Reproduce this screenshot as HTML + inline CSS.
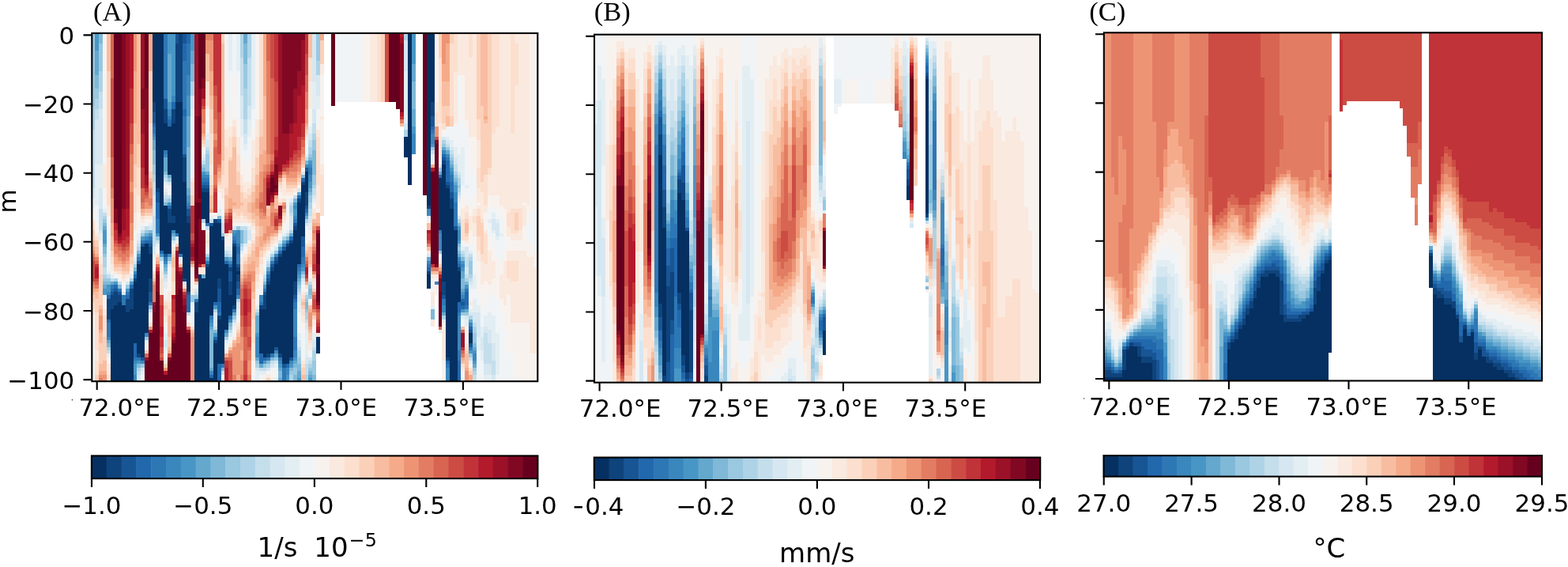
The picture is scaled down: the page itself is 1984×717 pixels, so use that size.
<!DOCTYPE html>
<html lang="en"><head><meta charset="utf-8"><title>Depth sections</title>
<style>html,body{margin:0;padding:0;background:#fff}body{width:1984px;height:717px}svg{display:block}text{fill:#000}</style></head>
<body>
<svg width="1984" height="717" viewBox="0 0 1984 717">
<rect width="1984" height="717" fill="#fff"/>
<g id="panelA">
<g shape-rendering="crispEdges">
<path fill="#053061" d="M193 42h4v87h-4zM545 42h5v87h-5zM516 42h5v192h-5zM197 42h5v196h-5zM540 42h5v218h-5zM202 42h5v275h-5zM222 129h4v166h-4zM226 129h5v192h-5zM207 156h5v34h-5zM217 156h5v117h-5zM212 160h5v61h-5zM511 173h5v26h-5zM559 208h5v148h-5zM386 217h4v26h-4zM555 225h4v66h-4zM231 230h5v122h-5zM381 234h5v65h-5zM564 238h5v214h-5zM255 243h5v34h-5zM260 243h5v39h-5zM376 256h5v78h-5zM207 260h5v61h-5zM569 264h5v218h-5zM217 282h5v9h-5zM212 282h5v39h-5zM275 282h5v70h-5zM236 282h5v87h-5zM270 282h5v100h-5zM265 286h5v113h-5zM371 291h5v65h-5zM574 291h5v191h-5zM280 304h4v156h-4zM183 308h5v113h-5zM366 308h5v144h-5zM294 312h5v74h-5zM178 312h5v140h-5zM362 312h4v148h-4zM357 317h5v143h-5zM188 321h5v31h-5zM352 325h5v122h-5zM284 334h5v83h-5zM347 334h5v105h-5zM173 334h5v113h-5zM260 338h5v144h-5zM299 343h5v4h-5zM579 343h4v39h-4zM342 343h5v104h-5zM540 347h5v18h-5zM251 347h4v135h-4zM255 352h5v130h-5zM169 356h4v78h-4zM337 360h5v87h-5zM289 373h5v26h-5zM149 382h5v100h-5zM144 386h5v96h-5zM154 386h5v96h-5zM328 391h5v56h-5zM333 391h4v61h-4zM140 391h4v91h-4zM164 391h5v91h-5zM159 395h5v87h-5zM246 395h5v87h-5zM275 404h5v56h-5zM593 421h5v13h-5zM400 426h5v21h-5zM270 434h5v48h-5zM265 478h5v4h-5z"/>
<path fill="#0f437b" d="M226 42h5v87h-5zM222 55h4v74h-4zM193 129h4v13h-4zM545 129h5v18h-5zM207 138h5v18h-5zM217 138h5v18h-5zM231 199h5v31h-5zM559 203h5v5h-5zM381 230h5v4h-5zM564 234h5v4h-5zM197 238h5v5h-5zM255 238h10v5h-10zM386 243h4v17h-4zM376 251h5v5h-5zM569 251h5v13h-5zM540 260h5v4h-5zM212 264h5v18h-5zM217 273h5v9h-5zM236 273h5v9h-5zM270 277h5v5h-5zM371 286h5v5h-5zM280 299h4v5h-4zM366 304h5v4h-5zM294 308h5v4h-5zM362 308h4v4h-4zM188 312h5v9h-5zM352 321h5v4h-5zM347 330h5v4h-5zM260 334h5v4h-5zM289 338h5v5h-5zM299 338h5v5h-5zM342 338h5v5h-5zM579 338h4v5h-4zM540 343h5v4h-5zM299 347h5v9h-5zM169 352h4v4h-4zM231 352h5v4h-5zM275 352h5v13h-5zM188 352h5v17h-5zM337 356h5v4h-5zM289 356h5v17h-5zM371 356h5v17h-5zM559 356h5v17h-5zM164 365h5v26h-5zM144 369h5v17h-5zM149 373h5v9h-5zM140 373h4v18h-4zM333 373h4v18h-4zM159 378h5v17h-5zM135 378h5v26h-5zM246 382h5v13h-5zM294 386h5v5h-5zM328 386h5v5h-5zM275 399h5v5h-5zM270 430h5v4h-5zM173 447h5v5h-5zM337 447h5v5h-5zM352 447h5v5h-5zM564 452h5v4h-5z"/>
<path fill="#185595" d="M222 42h4v13h-4zM231 42h5v13h-5zM207 125h5v13h-5zM193 142h4v14h-4zM545 147h5v13h-5zM231 195h5v4h-5zM559 199h5v4h-5zM386 212h4v5h-4zM564 230h5v4h-5zM255 234h10v4h-10zM569 243h5v8h-5zM197 243h5v13h-5zM386 260h4v4h-4zM236 264h5v9h-5zM275 277h5v5h-5zM265 282h5v4h-5zM371 282h5v4h-5zM574 286h5v5h-5zM381 299h5v13h-5zM178 308h5v4h-5zM188 308h5v4h-5zM357 312h5v5h-5zM207 321h5v4h-5zM347 325h5v5h-5zM173 330h5v4h-5zM299 334h5v4h-5zM342 334h5v4h-5zM289 343h5v13h-5zM337 352h5v4h-5zM299 356h5v9h-5zM144 365h5v4h-5zM275 365h5v17h-5zM140 369h4v4h-4zM149 369h5v4h-5zM236 369h5v4h-5zM333 369h4v4h-4zM188 369h5v13h-5zM371 373h5v5h-5zM559 373h5v5h-5zM583 382h5v4h-5zM593 417h5v4h-5zM593 434h5v5h-5zM347 439h5v4h-5zM178 452h5v4h-5zM366 452h5v4h-5zM357 460h5v5h-5z"/>
<path fill="#2268ad" d="M236 42h5v13h-5zM231 55h5v22h-5zM217 129h5v9h-5zM231 138h5v9h-5zM212 151h5v9h-5zM193 156h4v4h-4zM545 160h5v4h-5zM559 195h5v4h-5zM564 203h5v27h-5zM555 221h4v4h-4zM381 225h5v5h-5zM255 230h10v4h-10zM569 230h5v13h-5zM376 247h5v4h-5zM197 256h5v21h-5zM212 260h5v4h-5zM386 264h4v5h-4zM366 299h5v5h-5zM183 304h10v4h-10zM294 304h5v4h-5zM299 312h5v9h-5zM381 312h5v13h-5zM202 317h5v4h-5zM352 317h5v4h-5zM284 330h5v4h-5zM289 334h5v4h-5zM376 334h5v4h-5zM579 334h4v4h-4zM540 338h5v5h-5zM169 347h4v5h-4zM337 347h5v5h-5zM144 360h5v5h-5zM164 360h5v5h-5zM140 365h4v4h-4zM299 365h5v8h-5zM588 369h5v17h-5zM135 373h5v5h-5zM159 373h5v5h-5zM236 373h5v22h-5zM371 378h5v4h-5zM583 378h5v4h-5zM270 382h5v4h-5zM275 382h5v13h-5zM579 382h4v13h-4zM583 386h5v5h-5zM289 399h5v5h-5zM135 404h5v4h-5zM593 413h5v4h-5zM270 426h5v4h-5zM169 434h4v18h-4zM328 447h5v13h-5zM333 452h4v4h-4zM564 456h5v4h-5zM579 456h4v26h-4zM362 460h4v5h-4zM275 460h5v22h-5zM265 474h5v4h-5z"/>
<path fill="#2e77b5" d="M207 42h5v83h-5zM236 55h5v40h-5zM231 77h5v61h-5zM212 147h5v4h-5zM231 147h5v48h-5zM193 160h4v9h-4zM545 164h5v5h-5zM207 190h5v5h-5zM564 199h5v4h-5zM390 212h5v9h-5zM569 221h5v9h-5zM255 225h10v5h-10zM574 256h5v30h-5zM236 260h5v4h-5zM371 277h5v5h-5zM197 277h5v18h-5zM260 282h5v4h-5zM555 291h4v4h-4zM222 295h4v4h-4zM188 299h5v5h-5zM294 299h5v5h-5zM178 304h5v4h-5zM362 304h4v4h-4zM299 308h5v4h-5zM226 321h5v4h-5zM299 321h5v13h-5zM173 325h5v5h-5zM207 325h5v5h-5zM381 325h5v9h-5zM260 330h5v4h-5zM342 330h5v4h-5zM579 330h4v4h-4zM540 334h5v4h-5zM376 338h5v5h-5zM140 360h4v5h-4zM149 365h5v4h-5zM333 365h4v4h-4zM588 365h5v4h-5zM159 369h5v4h-5zM154 373h5v13h-5zM246 378h5v4h-5zM559 378h5v8h-5zM188 382h5v4h-5zM328 382h5v4h-5zM371 382h5v9h-5zM588 386h5v5h-5zM294 391h5v4h-5zM275 395h5v4h-5zM579 395h4v4h-4zM265 399h5v5h-5zM135 408h5v18h-5zM371 426h5v17h-5zM593 439h5v4h-5zM579 443h4v13h-4zM342 447h5v5h-5zM169 452h9v4h-9zM337 452h5v4h-5zM352 452h5v4h-5zM280 460h4v5h-4zM564 460h5v5h-5zM357 465h5v17h-5z"/>
<path fill="#3a87bd" d="M236 95h5v26h-5zM217 121h5v8h-5zM212 138h5v9h-5zM193 169h4v4h-4zM545 169h5v13h-5zM521 169h5v26h-5zM559 190h5v5h-5zM207 195h5v4h-5zM564 195h5v4h-5zM386 208h9v4h-9zM569 217h5v4h-5zM255 221h10v4h-10zM390 221h5v9h-5zM574 243h5v13h-5zM236 256h5v4h-5zM371 260h5v4h-5zM540 264h5v9h-5zM386 269h4v4h-4zM371 273h5v4h-5zM217 291h5v4h-5zM579 291h4v13h-4zM299 291h5v17h-5zM294 295h5v4h-5zM555 295h4v22h-4zM183 299h5v5h-5zM357 308h5v4h-5zM212 321h5v4h-5zM347 321h5v4h-5zM579 325h4v5h-4zM207 330h5v4h-5zM289 330h5v4h-5zM540 330h5v4h-5zM381 334h5v4h-5zM583 334h5v4h-5zM169 343h4v4h-4zM337 343h5v4h-5zM376 343h5v4h-5zM550 356h5v4h-5zM135 369h5v4h-5zM299 373h5v5h-5zM583 373h5v5h-5zM328 373h5v9h-5zM559 386h5v9h-5zM371 391h5v35h-5zM579 399h4v44h-4zM265 404h5v4h-5zM289 404h5v4h-5zM593 408h5v5h-5zM284 417h5v4h-5zM183 421h5v5h-5zM135 426h5v4h-5zM323 426h5v26h-5zM347 443h5v4h-5zM371 443h5v9h-5zM598 447h5v9h-5zM169 456h4v4h-4zM178 456h5v4h-5zM352 456h5v4h-5zM366 456h5v4h-5zM362 465h4v9h-4zM564 465h5v17h-5zM265 469h5v5h-5zM169 474h4v8h-4z"/>
<path fill="#4896c5" d="M120 42h5v22h-5zM241 42h5v22h-5zM212 42h5v26h-5zM521 42h5v39h-5zM217 42h5v79h-5zM236 121h5v26h-5zM212 129h5v9h-5zM521 160h5v9h-5zM193 173h4v4h-4zM545 182h5v4h-5zM390 203h5v5h-5zM569 212h5v5h-5zM255 217h5v4h-5zM390 230h5v8h-5zM574 234h5v9h-5zM236 247h5v9h-5zM212 256h5v4h-5zM371 256h5v4h-5zM371 264h5v9h-5zM579 286h4v5h-4zM294 291h5v4h-5zM130 291h5v17h-5zM188 295h5v4h-5zM197 295h5v4h-5zM178 299h5v5h-5zM579 304h4v4h-4zM352 312h5v5h-5zM173 321h5v4h-5zM202 321h5v4h-5zM284 325h5v5h-5zM583 330h5v4h-5zM381 338h5v5h-5zM583 338h5v5h-5zM376 347h5v5h-5zM144 356h5v4h-5zM164 356h5v4h-5zM333 360h4v5h-4zM588 360h5v5h-5zM135 360h5v9h-5zM159 365h5v4h-5zM130 365h5v8h-5zM583 369h5v4h-5zM270 386h5v5h-5zM583 391h5v4h-5zM265 408h5v5h-5zM270 421h5v5h-5zM323 421h5v5h-5zM593 443h10v4h-10zM371 452h5v4h-5zM173 456h5v4h-5zM333 456h4v4h-4zM598 456h5v4h-5zM352 460h5v5h-5zM366 460h5v5h-5zM169 460h4v14h-4zM362 474h4v8h-4zM376 478h5v4h-5zM390 478h5v4h-5z"/>
<path fill="#64a8ce" d="M308 42h5v13h-5zM241 64h5v17h-5zM120 64h5v31h-5zM212 68h5v61h-5zM521 81h5v22h-5zM521 138h5v22h-5zM236 147h5v39h-5zM193 177h4v13h-4zM559 186h5v4h-5zM564 190h5v5h-5zM207 199h5v18h-5zM569 208h5v4h-5zM260 217h5v4h-5zM555 217h4v4h-4zM212 221h5v4h-5zM574 230h5v4h-5zM390 238h5v5h-5zM236 238h5v9h-5zM376 243h5v4h-5zM386 273h4v4h-4zM130 286h5v5h-5zM183 295h5v4h-5zM217 295h5v4h-5zM366 295h5v4h-5zM357 304h5v4h-5zM130 308h5v4h-5zM579 321h4v4h-4zM260 325h5v5h-5zM289 325h5v5h-5zM342 325h5v5h-5zM540 325h5v5h-5zM207 334h5v4h-5zM337 338h5v5h-5zM583 343h5v9h-5zM255 347h5v5h-5zM376 352h5v4h-5zM140 356h4v4h-4zM130 360h5v5h-5zM583 365h5v4h-5zM588 391h5v4h-5zM294 395h5v4h-5zM559 395h5v4h-5zM323 399h5v22h-5zM593 404h5v4h-5zM265 413h5v4h-5zM284 421h5v5h-5zM135 430h5v4h-5zM598 439h5v4h-5zM347 447h5v5h-5zM323 452h5v4h-5zM371 456h5v4h-5zM328 460h5v5h-5zM598 460h5v5h-5zM265 465h5v4h-5zM352 465h5v4h-5zM376 469h5v9h-5zM390 474h5v4h-5zM352 478h5v4h-5z"/>
<path fill="#7fb9d7" d="M125 42h5v13h-5zM308 55h5v26h-5zM241 81h5v22h-5zM120 95h5v17h-5zM521 103h5v35h-5zM236 186h5v52h-5zM193 190h4v18h-4zM395 190h5v31h-5zM390 199h5v4h-5zM386 203h4v5h-4zM569 203h5v5h-5zM255 212h5v5h-5zM207 217h5v4h-5zM381 221h5v4h-5zM574 225h5v5h-5zM390 243h5v4h-5zM371 251h5v5h-5zM207 256h5v4h-5zM275 273h5v4h-5zM130 282h5v4h-5zM579 282h4v4h-4zM188 291h5v4h-5zM304 291h4v17h-4zM362 299h4v5h-4zM579 308h4v4h-4zM130 312h5v9h-5zM173 317h5v4h-5zM579 317h4v4h-4zM212 325h5v5h-5zM583 325h5v5h-5zM169 338h4v5h-4zM207 338h5v5h-5zM381 343h5v4h-5zM583 352h5v13h-5zM130 356h10v4h-10zM333 356h4v4h-4zM376 356h5v4h-5zM588 356h5v4h-5zM149 360h5v5h-5zM390 365h5v8h-5zM386 382h4v9h-4zM188 386h5v5h-5zM545 391h5v13h-5zM289 408h5v5h-5zM270 417h5v4h-5zM265 417h5v48h-5zM135 434h5v5h-5zM598 434h5v5h-5zM342 452h5v4h-5zM337 456h5v4h-5zM173 460h5v5h-5zM371 460h5v5h-5zM376 460h5v9h-5zM280 465h4v4h-4zM366 465h5v4h-5zM390 469h5v5h-5zM352 469h5v9h-5zM371 474h5v8h-5zM395 474h5v8h-5z"/>
<path fill="#99c8e0" d="M400 42h5v35h-5zM116 42h4v92h-4zM125 55h5v35h-5zM308 81h5v31h-5zM120 112h5v13h-5zM395 177h5v13h-5zM559 182h5v4h-5zM545 186h5v4h-5zM564 186h5v4h-5zM390 195h5v4h-5zM260 195h5v22h-5zM569 199h5v4h-5zM255 208h5v4h-5zM193 208h4v13h-4zM555 212h4v5h-4zM574 221h5v4h-5zM395 221h5v13h-5zM212 225h5v5h-5zM579 234h4v4h-4zM390 247h5v9h-5zM212 251h5v5h-5zM130 277h5v5h-5zM299 286h5v5h-5zM183 291h5v4h-5zM178 295h5v4h-5zM280 295h4v4h-4zM197 299h5v5h-5zM217 299h5v5h-5zM352 308h5v4h-5zM579 312h4v5h-4zM347 317h5v4h-5zM555 317h4v4h-4zM130 321h5v4h-5zM593 330h5v17h-5zM207 343h5v4h-5zM130 352h10v4h-10zM159 360h5v5h-5zM376 360h5v5h-5zM390 360h5v5h-5zM246 373h5v5h-5zM390 373h5v5h-5zM241 373h5v9h-5zM386 378h4v4h-4zM386 391h4v4h-4zM323 395h5v4h-5zM583 395h10v4h-10zM294 399h5v5h-5zM289 413h5v4h-5zM598 421h5v13h-5zM183 426h5v4h-5zM593 447h5v5h-5zM347 452h5v4h-5zM376 452h5v8h-5zM323 456h5v4h-5zM395 456h5v18h-5zM178 460h5v5h-5zM333 460h4v5h-4zM390 465h5v4h-5zM598 465h5v4h-5zM371 465h5v9h-5zM366 469h5v5h-5z"/>
<path fill="#aed3e6" d="M511 42h5v9h-5zM304 42h4v31h-4zM313 42h5v31h-5zM400 77h5v18h-5zM125 90h5v26h-5zM241 103h5v18h-5zM308 112h5v39h-5zM120 125h5v13h-5zM116 134h4v30h-4zM511 164h5v9h-5zM395 169h5v8h-5zM559 177h5v5h-5zM390 186h5v9h-5zM260 190h5v5h-5zM569 195h5v4h-5zM574 217h5v4h-5zM207 221h5v4h-5zM193 221h4v9h-4zM579 225h4v9h-4zM395 234h5v4h-5zM579 238h4v5h-4zM207 251h5v5h-5zM390 256h5v8h-5zM366 260h5v9h-5zM130 273h5v4h-5zM255 277h5v5h-5zM386 277h4v5h-4zM579 277h4v5h-4zM366 291h5v4h-5zM308 291h5v17h-5zM357 299h5v5h-5zM304 308h4v4h-4zM173 312h5v5h-5zM260 321h5v4h-5zM284 321h5v4h-5zM342 321h5v4h-5zM583 321h5v4h-5zM202 325h5v5h-5zM593 325h5v5h-5zM130 325h5v13h-5zM169 334h4v4h-4zM337 334h5v4h-5zM130 347h5v5h-5zM381 347h5v5h-5zM593 347h5v5h-5zM144 352h5v4h-5zM164 352h5v4h-5zM333 352h4v4h-4zM588 352h5v4h-5zM376 365h5v4h-5zM386 373h4v5h-4zM299 378h5v4h-5zM270 391h5v4h-5zM386 395h4v9h-4zM559 399h5v5h-5zM593 399h5v5h-5zM598 413h5v8h-5zM284 426h5v4h-5zM135 439h5v4h-5zM376 443h5v9h-5zM395 443h5v13h-5zM323 460h5v5h-5zM337 460h5v5h-5zM390 460h5v5h-5zM173 465h5v4h-5zM598 469h5v5h-5zM366 474h5v8h-5zM386 474h4v8h-4z"/>
<path fill="#c4deec" d="M304 73h4v48h-4zM313 73h5v61h-5zM125 116h5v22h-5zM120 138h5v13h-5zM308 151h5v18h-5zM395 156h5v13h-5zM116 164h4v74h-4zM390 177h5v9h-5zM564 182h5v4h-5zM260 186h5v4h-5zM545 190h5v5h-5zM569 190h5v5h-5zM386 199h4v4h-4zM255 203h5v5h-5zM574 208h5v9h-5zM579 221h4v4h-4zM207 225h5v5h-5zM193 230h4v17h-4zM395 238h5v9h-5zM579 243h4v4h-4zM207 247h10v4h-10zM371 247h5v4h-5zM366 256h5v4h-5zM390 264h5v9h-5zM125 264h5v27h-5zM130 269h5v4h-5zM366 269h5v4h-5zM193 273h4v39h-4zM265 277h5v5h-5zM280 282h4v13h-4zM183 286h5v5h-5zM260 286h5v5h-5zM304 286h9v5h-9zM178 291h5v4h-5zM362 295h4v4h-4zM197 304h5v4h-5zM173 308h5v4h-5zM304 312h4v5h-4zM284 317h5v4h-5zM583 317h5v4h-5zM289 321h5v4h-5zM593 321h5v4h-5zM588 325h5v13h-5zM212 330h5v4h-5zM337 330h5v4h-5zM130 338h5v9h-5zM135 347h5v5h-5zM207 347h5v5h-5zM333 347h4v5h-4zM588 347h5v5h-5zM140 352h4v4h-4zM593 352h5v4h-5zM149 356h5v4h-5zM390 356h5v4h-5zM246 369h5v4h-5zM376 369h5v4h-5zM188 391h5v4h-5zM323 391h5v4h-5zM236 395h5v4h-5zM294 404h5v4h-5zM386 404h4v4h-4zM598 408h5v5h-5zM270 413h5v4h-5zM289 417h5v4h-5zM612 421h5v39h-5zM617 434h5v26h-5zM376 439h5v4h-5zM395 439h5v4h-5zM135 443h5v4h-5zM593 452h5v4h-5zM342 456h5v4h-5zM390 456h5v4h-5zM622 456h5v18h-5zM386 460h4v14h-4zM328 465h9v4h-9zM173 469h5v5h-5zM280 469h4v5h-4zM598 474h5v8h-5z"/>
<path fill="#d6e7f1" d="M395 42h5v61h-5zM511 51h5v39h-5zM400 95h5v26h-5zM241 121h5v17h-5zM304 121h4v30h-4zM313 134h5v17h-5zM395 138h5v18h-5zM125 138h5v70h-5zM120 151h5v57h-5zM511 156h5v8h-5zM390 169h5v8h-5zM308 169h5v13h-5zM559 173h5v4h-5zM564 177h5v5h-5zM260 177h5v9h-5zM569 186h5v4h-5zM255 199h5v4h-5zM574 199h5v9h-5zM555 208h4v4h-4zM381 217h5v4h-5zM579 217h4v4h-4zM212 230h5v4h-5zM376 238h5v5h-5zM116 238h4v13h-4zM125 238h5v26h-5zM207 243h5v4h-5zM395 247h5v4h-5zM579 247h4v4h-4zM193 247h4v26h-4zM579 273h4v4h-4zM390 273h5v9h-5zM366 273h5v18h-5zM280 277h4v5h-4zM622 277h5v14h-5zM386 282h4v4h-4zM627 282h5v17h-5zM188 286h5v5h-5zM294 286h5v5h-5zM125 291h5v4h-5zM313 291h5v13h-5zM222 299h4v5h-4zM173 304h5v4h-5zM217 304h5v4h-5zM352 304h5v4h-5zM347 312h5v5h-5zM193 312h4v9h-4zM588 312h5v13h-5zM289 317h5v4h-5zM540 321h5v4h-5zM169 330h4v4h-4zM588 338h5v9h-5zM207 352h5v4h-5zM381 352h5v4h-5zM159 356h5v4h-5zM231 356h5v4h-5zM593 356h5v4h-5zM246 365h5v4h-5zM154 369h5v4h-5zM386 369h4v4h-4zM376 373h5v9h-5zM299 382h5v9h-5zM593 395h5v4h-5zM598 395h5v13h-5zM270 395h5v18h-5zM603 395h5v31h-5zM588 399h5v5h-5zM386 408h4v9h-4zM612 413h5v8h-5zM617 417h5v17h-5zM608 426h4v17h-4zM207 430h5v9h-5zM376 430h5v9h-5zM395 430h5v9h-5zM622 434h5v22h-5zM390 452h5v4h-5zM386 452h4v8h-4zM347 456h5v4h-5zM342 460h5v5h-5zM612 460h10v14h-10zM178 465h5v4h-5zM323 465h5v4h-5zM337 465h5v4h-5zM173 474h5v8h-5zM622 474h5v8h-5z"/>
<path fill="#e3eef3" d="M289 42h5v48h-5zM299 42h5v48h-5zM318 42h5v96h-5zM511 90h5v66h-5zM395 103h5v35h-5zM400 121h5v17h-5zM241 138h5v9h-5zM304 151h4v22h-4zM313 151h5v22h-5zM390 160h5v9h-5zM260 169h5v8h-5zM564 173h5v4h-5zM569 177h5v9h-5zM308 182h5v8h-5zM574 186h5v13h-5zM583 186h5v48h-5zM255 195h5v4h-5zM386 195h4v4h-4zM545 195h5v8h-5zM579 195h4v22h-4zM125 208h5v30h-5zM120 208h5v52h-5zM207 230h5v4h-5zM588 234h5v4h-5zM207 238h5v5h-5zM366 251h5v5h-5zM395 251h5v5h-5zM579 251h4v5h-4zM116 251h4v13h-4zM130 264h5v5h-5zM275 264h5v9h-5zM622 269h5v8h-5zM265 273h5v4h-5zM280 273h4v4h-4zM540 273h5v4h-5zM617 277h5v5h-5zM627 277h5v5h-5zM188 282h5v4h-5zM390 282h5v9h-5zM178 286h5v5h-5zM313 286h5v5h-5zM362 291h4v4h-4zM622 291h5v4h-5zM357 295h5v4h-5zM632 295h5v4h-5zM125 295h5v9h-5zM173 295h5v9h-5zM627 299h5v5h-5zM197 308h5v4h-5zM308 308h5v4h-5zM284 312h10v5h-10zM583 312h5v5h-5zM304 317h4v4h-4zM342 317h5v4h-5zM593 317h5v4h-5zM193 321h4v4h-4zM169 325h4v5h-4zM226 325h5v5h-5zM337 325h5v5h-5zM202 330h5v4h-5zM212 334h5v4h-5zM135 343h5v4h-5zM333 343h4v4h-4zM140 347h4v5h-4zM164 347h5v5h-5zM598 347h5v18h-5zM390 352h5v4h-5zM381 356h5v4h-5zM207 356h5v9h-5zM593 360h5v5h-5zM598 378h5v17h-5zM241 382h5v4h-5zM376 382h5v13h-5zM323 386h5v5h-5zM545 386h5v5h-5zM603 386h5v9h-5zM593 391h5v4h-5zM299 391h5v8h-5zM617 395h5v22h-5zM583 399h5v5h-5zM612 399h5v14h-5zM622 399h5v35h-5zM559 404h5v4h-5zM588 404h5v9h-5zM294 408h5v5h-5zM608 413h4v13h-4zM555 417h4v4h-4zM386 417h4v35h-4zM289 421h5v5h-5zM207 421h5v9h-5zM376 421h5v9h-5zM395 421h5v9h-5zM627 421h5v53h-5zM603 426h5v17h-5zM183 430h5v4h-5zM284 430h5v4h-5zM207 439h5v4h-5zM608 443h4v13h-4zM135 447h5v5h-5zM593 456h5v4h-5zM347 460h5v5h-5zM178 469h5v5h-5zM328 469h9v5h-9zM323 469h5v13h-5zM612 474h10v8h-10zM347 478h5v4h-5z"/>
<path fill="#f0f4f6" d="M294 42h5v53h-5zM424 42h34v87h-34zM284 42h5v92h-5zM289 90h5v61h-5zM299 90h5v61h-5zM579 95h4v52h-4zM400 138h5v18h-5zM318 138h5v22h-5zM241 147h5v74h-5zM579 151h4v44h-4zM390 156h5v4h-5zM260 156h5v13h-5zM583 156h5v30h-5zM564 160h5v13h-5zM569 160h5v17h-5zM574 160h5v26h-5zM588 164h5v70h-5zM559 169h5v4h-5zM304 173h4v26h-4zM313 173h5v30h-5zM386 186h4v9h-4zM255 190h5v5h-5zM308 190h5v18h-5zM555 203h4v5h-4zM593 212h5v48h-5zM598 221h5v26h-5zM207 234h5v4h-5zM583 234h5v13h-5zM212 238h5v9h-5zM588 238h5v13h-5zM371 243h5v4h-5zM362 251h4v22h-4zM395 256h5v4h-5zM275 256h5v8h-5zM579 256h4v17h-4zM130 260h5v4h-5zM120 260h5v22h-5zM116 264h4v5h-4zM622 264h5v5h-5zM280 264h4v9h-4zM617 264h5v13h-5zM627 264h5v13h-5zM675 264h5v53h-5zM670 269h5v39h-5zM270 273h5v4h-5zM632 273h5v22h-5zM183 282h5v4h-5zM299 282h14v4h-14zM255 282h5v9h-5zM362 282h4v9h-4zM173 282h5v13h-5zM617 282h5v17h-5zM666 282h4v22h-4zM386 286h4v5h-4zM135 286h5v57h-5zM357 291h5v4h-5zM390 291h5v4h-5zM622 295h5v17h-5zM352 299h5v5h-5zM637 299h4v18h-4zM632 299h5v31h-5zM313 304h5v4h-5zM125 304h5v13h-5zM627 304h5v21h-5zM217 308h5v4h-5zM289 308h5v4h-5zM347 308h5v4h-5zM583 308h10v4h-10zM593 308h5v9h-5zM197 312h5v5h-5zM308 312h5v5h-5zM342 312h5v5h-5zM260 312h5v9h-5zM169 317h4v8h-4zM598 317h5v30h-5zM337 321h5v4h-5zM555 321h4v9h-4zM193 325h4v9h-4zM202 334h5v4h-5zM333 334h4v9h-4zM212 338h5v14h-5zM144 347h5v5h-5zM390 347h5v5h-5zM149 352h5v4h-5zM550 352h5v4h-5zM246 360h5v5h-5zM381 360h5v5h-5zM154 360h5v9h-5zM550 360h5v9h-5zM207 365h5v8h-5zM328 365h5v8h-5zM593 365h5v8h-5zM598 365h5v13h-5zM603 369h5v17h-5zM130 373h5v5h-5zM617 373h5v22h-5zM622 373h5v26h-5zM390 378h5v4h-5zM323 378h5v8h-5zM627 378h5v43h-5zM612 382h5v17h-5zM241 386h5v27h-5zM608 391h4v22h-4zM188 395h5v4h-5zM376 395h5v26h-5zM632 395h5v87h-5zM299 399h5v5h-5zM583 404h5v9h-5zM588 413h5v4h-5zM207 413h5v8h-5zM294 413h5v13h-5zM395 417h5v4h-5zM381 417h5v35h-5zM116 417h4v65h-4zM637 417h4v65h-4zM289 426h5v8h-5zM284 434h5v9h-5zM207 443h5v4h-5zM603 443h5v39h-5zM390 447h5v5h-5zM641 447h10v35h-10zM135 452h5v4h-5zM608 456h4v26h-4zM342 465h5v4h-5zM347 465h5v13h-5zM337 469h5v5h-5zM328 474h5v4h-5zM178 474h5v8h-5zM280 474h4v8h-4zM318 474h5v8h-5zM583 474h5v8h-5zM627 474h5v8h-5z"/>
<path fill="#f8f2ef" d="M458 42h10v87h-10zM550 42h5v87h-5zM323 42h5v109h-5zM130 42h5v166h-5zM675 42h5v222h-5zM670 42h5v227h-5zM405 95h5v52h-5zM294 95h5v56h-5zM583 95h5v61h-5zM284 134h5v30h-5zM260 138h5v18h-5zM390 138h5v18h-5zM579 147h4v4h-4zM289 151h5v9h-5zM588 151h5v13h-5zM299 151h5v22h-5zM405 151h5v57h-5zM574 156h5v4h-5zM400 156h5v8h-5zM318 160h5v17h-5zM559 164h5v5h-5zM593 173h5v39h-5zM598 173h5v48h-5zM386 177h4v9h-4zM255 186h5v4h-5zM555 199h4v4h-4zM304 199h4v22h-4zM545 203h5v5h-5zM313 203h5v27h-5zM308 208h5v22h-5zM381 212h5v5h-5zM241 221h5v4h-5zM212 234h5v4h-5zM376 234h5v4h-5zM130 238h5v22h-5zM352 243h5v8h-5zM275 243h5v13h-5zM357 247h14v4h-14zM583 247h5v17h-5zM598 247h5v17h-5zM617 247h15v17h-15zM588 251h5v9h-5zM280 251h4v13h-4zM603 256h5v4h-5zM661 256h5v4h-5zM395 260h5v4h-5zM593 260h5v13h-5zM632 260h5v13h-5zM666 260h4v22h-4zM400 264h5v5h-5zM637 264h4v35h-4zM265 269h10v4h-10zM116 269h4v8h-4zM173 269h5v13h-5zM612 269h5v22h-5zM362 273h4v9h-4zM135 273h5v13h-5zM183 277h10v5h-10zM540 277h5v5h-5zM178 282h5v4h-5zM294 282h5v4h-5zM313 282h5v4h-5zM357 282h5v9h-5zM120 282h5v13h-5zM661 286h5v31h-5zM260 291h5v4h-5zM318 291h5v4h-5zM386 291h4v17h-4zM593 291h5v17h-5zM169 291h4v26h-4zM352 295h5v4h-5zM390 295h5v9h-5zM289 295h5v13h-5zM284 299h5v13h-5zM598 299h5v18h-5zM617 299h5v18h-5zM641 299h5v18h-5zM222 304h4v4h-4zM583 304h5v4h-5zM646 304h15v13h-15zM666 304h4v21h-4zM670 308h5v17h-5zM622 312h5v18h-5zM197 317h5v4h-5zM308 317h5v4h-5zM337 317h5v4h-5zM125 317h5v8h-5zM637 317h4v13h-4zM675 317h5v21h-5zM304 321h4v4h-4zM333 325h4v9h-4zM627 325h5v53h-5zM632 330h5v17h-5zM603 330h5v39h-5zM193 334h4v9h-4zM202 338h5v5h-5zM140 343h4v4h-4zM164 343h5v4h-5zM390 343h5v4h-5zM241 343h5v22h-5zM149 347h5v5h-5zM328 347h5v18h-5zM159 352h5v4h-5zM212 352h5v17h-5zM545 352h5v17h-5zM622 352h5v21h-5zM154 356h5v4h-5zM612 356h5v26h-5zM617 360h5v13h-5zM608 360h4v31h-4zM381 365h9v4h-9zM323 365h5v13h-5zM550 369h5v4h-5zM207 373h5v5h-5zM593 373h5v9h-5zM641 373h5v74h-5zM130 378h5v13h-5zM632 378h5v17h-5zM593 386h5v5h-5zM637 386h4v31h-4zM188 399h5v9h-5zM236 399h5v9h-5zM116 399h4v18h-4zM299 404h5v4h-5zM207 408h5v5h-5zM381 408h5v9h-5zM559 408h5v9h-5zM646 408h5v39h-5zM651 408h19v74h-19zM395 413h5v4h-5zM588 417h5v17h-5zM183 434h5v9h-5zM390 443h5v4h-5zM207 447h5v9h-5zM670 447h10v35h-10zM381 452h5v4h-5zM135 456h5v4h-5zM318 456h5v18h-5zM559 456h5v26h-5zM593 460h5v5h-5zM583 469h5v5h-5zM342 469h5v9h-5zM333 474h4v4h-4zM328 478h5v4h-5z"/>
<path fill="#fae9de" d="M651 42h5v13h-5zM579 42h9v53h-9zM468 42h9v87h-9zM588 42h5v109h-5zM598 42h5v131h-5zM661 42h5v214h-5zM632 42h5v218h-5zM666 42h4v218h-4zM637 42h4v222h-4zM656 42h5v222h-5zM641 42h5v227h-5zM593 73h5v100h-5zM405 81h5v14h-5zM574 90h5v66h-5zM390 103h5v35h-5zM651 108h5v156h-5zM550 129h5v13h-5zM260 134h5v4h-5zM405 147h5v4h-5zM294 151h5v9h-5zM323 151h5v22h-5zM555 156h4v43h-4zM289 160h5v13h-5zM627 160h5v87h-5zM400 164h5v9h-5zM284 164h5v22h-5zM622 169h5v78h-5zM646 169h5v95h-5zM386 173h4v4h-4zM299 173h5v22h-5zM318 177h5v35h-5zM603 177h5v35h-5zM265 208h5v13h-5zM405 208h5v13h-5zM130 208h5v30h-5zM304 221h4v13h-4zM617 221h5v26h-5zM241 225h5v5h-5zM313 230h5v8h-5zM308 230h5v13h-5zM357 230h5v17h-5zM400 234h5v30h-5zM275 238h5v5h-5zM352 238h5v5h-5zM371 238h5v5h-5zM280 238h4v13h-4zM603 238h5v18h-5zM362 243h9v4h-9zM608 243h4v34h-4zM173 247h5v22h-5zM352 251h5v5h-5zM603 260h5v4h-5zM588 260h5v9h-5zM612 260h5v9h-5zM135 260h5v13h-5zM661 260h5v26h-5zM395 264h5v5h-5zM598 264h5v9h-5zM583 264h5v13h-5zM169 269h4v22h-4zM183 273h10v4h-10zM304 273h4v9h-4zM593 273h5v18h-5zM116 277h4v5h-4zM178 277h5v5h-5zM294 277h10v5h-10zM308 277h5v5h-5zM357 277h5v5h-5zM598 282h5v17h-5zM318 286h5v5h-5zM641 286h5v13h-5zM612 291h5v4h-5zM656 291h5v13h-5zM120 295h5v4h-5zM260 295h5v9h-5zM318 295h5v9h-5zM646 295h10v9h-10zM347 304h5v4h-5zM390 304h5v4h-5zM588 304h5v4h-5zM260 308h5v4h-5zM313 308h5v4h-5zM342 308h5v4h-5zM217 312h5v5h-5zM540 317h5v4h-5zM603 317h5v13h-5zM641 317h15v13h-15zM617 317h5v43h-5zM656 317h10v91h-10zM308 321h5v4h-5zM333 321h4v4h-4zM125 325h5v9h-5zM304 325h4v9h-4zM666 325h4v83h-4zM670 325h5v122h-5zM226 330h5v4h-5zM555 330h4v4h-4zM622 330h5v22h-5zM608 330h4v30h-4zM637 330h4v56h-4zM140 334h4v9h-4zM328 334h5v13h-5zM612 334h5v22h-5zM164 338h5v5h-5zM241 338h5v5h-5zM390 338h5v5h-5zM251 338h9v9h-9zM675 338h5v109h-5zM144 343h5v4h-5zM202 343h5v9h-5zM159 347h5v5h-5zM545 347h10v5h-10zM632 347h5v31h-5zM154 352h5v4h-5zM641 352h5v21h-5zM323 356h5v9h-5zM395 356h5v9h-5zM646 356h10v52h-10zM241 365h5v8h-5zM381 369h5v4h-5zM212 369h5v13h-5zM545 369h5v17h-5zM207 378h5v4h-5zM390 382h5v4h-5zM593 382h5v4h-5zM116 391h4v8h-4zM130 391h5v8h-5zM207 399h5v9h-5zM381 399h5v9h-5zM395 404h5v9h-5zM545 404h5v9h-5zM299 408h5v5h-5zM559 417h5v39h-5zM400 421h5v5h-5zM294 426h5v4h-5zM289 434h5v5h-5zM588 434h5v5h-5zM390 434h5v9h-5zM318 434h5v22h-5zM284 443h5v4h-5zM120 443h5v13h-5zM207 456h5v4h-5zM381 456h5v4h-5zM135 460h5v14h-5zM583 465h5v4h-5zM337 474h5v4h-5zM333 478h4v4h-4zM342 478h5v4h-5z"/>
<path fill="#fcdfce" d="M593 42h5v31h-5zM574 42h5v48h-5zM477 42h5v87h-5zM328 42h5v109h-5zM627 42h5v118h-5zM622 42h5v127h-5zM646 42h5v127h-5zM651 55h5v53h-5zM569 55h5v92h-5zM390 73h5v30h-5zM555 73h4v83h-4zM260 103h5v31h-5zM550 142h5v18h-5zM603 151h5v26h-5zM559 156h5v8h-5zM188 156h5v61h-5zM294 160h5v13h-5zM386 169h4v4h-4zM265 169h5v39h-5zM289 173h5v26h-5zM323 173h5v26h-5zM400 173h5v61h-5zM255 182h5v4h-5zM284 186h5v52h-5zM299 195h5v22h-5zM135 199h5v61h-5zM617 212h5v9h-5zM318 212h5v22h-5zM603 212h5v26h-5zM173 212h5v35h-5zM265 221h5v13h-5zM280 221h4v17h-4zM612 221h5v39h-5zM405 221h5v52h-5zM357 225h5v5h-5zM376 230h5v4h-5zM608 230h4v13h-4zM241 230h5v17h-5zM275 234h5v4h-5zM352 234h5v4h-5zM304 234h4v9h-4zM362 238h9v5h-9zM313 238h5v9h-5zM169 238h4v31h-4zM308 243h5v8h-5zM357 251h5v5h-5zM651 264h5v5h-5zM603 264h5v9h-5zM656 264h5v27h-5zM646 264h5v31h-5zM304 269h4v4h-4zM294 269h5v8h-5zM395 269h5v8h-5zM588 269h5v8h-5zM641 269h5v17h-5zM178 273h5v4h-5zM299 273h5v4h-5zM308 273h5v4h-5zM357 273h5v4h-5zM598 273h5v9h-5zM313 277h5v5h-5zM608 277h4v5h-4zM583 277h5v27h-5zM318 282h5v4h-5zM116 282h4v9h-4zM352 291h5v4h-5zM651 291h5v4h-5zM284 295h5v4h-5zM612 295h5v39h-5zM120 299h5v5h-5zM347 299h5v5h-5zM588 299h5v5h-5zM603 299h5v18h-5zM260 304h5v4h-5zM318 304h5v4h-5zM342 304h5v4h-5zM386 308h9v4h-9zM337 312h5v5h-5zM313 312h5v9h-5zM217 317h5v4h-5zM333 317h4v4h-4zM197 321h5v4h-5zM608 321h4v9h-4zM308 325h5v5h-5zM140 325h4v9h-4zM328 325h5v9h-5zM641 330h5v22h-5zM646 330h10v26h-10zM164 334h5v4h-5zM304 334h4v9h-4zM125 334h5v13h-5zM149 343h5v4h-5zM193 343h4v4h-4zM154 347h5v5h-5zM323 347h5v9h-5zM395 352h5v4h-5zM202 352h5v21h-5zM217 356h5v17h-5zM231 360h5v5h-5zM386 360h4v5h-4zM381 373h5v5h-5zM207 382h5v4h-5zM116 382h4v9h-4zM212 382h5v9h-5zM207 391h5v8h-5zM381 391h5v8h-5zM120 395h5v48h-5zM130 399h5v27h-5zM318 404h5v30h-5zM188 408h5v5h-5zM236 408h5v5h-5zM241 413h5v4h-5zM299 413h5v4h-5zM390 430h5v4h-5zM588 439h5v4h-5zM120 456h5v18h-5zM381 460h5v5h-5zM583 460h5v5h-5zM593 465h5v4h-5zM135 474h5v8h-5z"/>
<path fill="#fbd0b9" d="M280 42h4v13h-4zM569 42h5v13h-5zM555 42h4v31h-4zM482 42h5v87h-5zM603 42h5v109h-5zM617 42h5v170h-5zM405 51h5v30h-5zM188 90h5v66h-5zM135 90h5v109h-5zM564 134h5v13h-5zM559 134h5v22h-5zM608 134h4v96h-4zM265 138h5v31h-5zM569 147h5v13h-5zM328 151h5v22h-5zM612 156h5v65h-5zM386 164h4v5h-4zM294 173h5v13h-5zM255 177h5v5h-5zM173 182h5v30h-5zM289 199h5v4h-5zM323 199h5v22h-5zM280 203h4v18h-4zM381 208h5v4h-5zM169 208h4v30h-4zM188 217h5v8h-5zM299 217h5v17h-5zM376 225h5v5h-5zM275 230h5v4h-5zM352 230h5v4h-5zM362 234h14v4h-14zM318 234h5v9h-5zM265 234h5v13h-5zM284 238h5v9h-5zM304 243h4v13h-4zM313 247h5v9h-5zM241 247h5v13h-5zM308 251h5v22h-5zM352 256h5v4h-5zM337 260h5v4h-5zM304 260h4v9h-4zM294 264h5v5h-5zM299 264h5v9h-5zM183 269h10v4h-10zM357 269h5v4h-5zM313 269h5v8h-5zM651 269h5v22h-5zM603 273h5v26h-5zM318 277h5v5h-5zM588 277h5v5h-5zM608 282h4v39h-4zM323 286h5v13h-5zM116 291h4v13h-4zM588 295h5v4h-5zM342 299h5v5h-5zM120 304h5v8h-5zM222 308h4v4h-4zM337 308h5v4h-5zM318 308h5v9h-5zM333 312h4v5h-4zM386 312h4v5h-4zM140 317h4v8h-4zM328 317h5v8h-5zM217 321h5v4h-5zM313 321h5v4h-5zM164 325h5v9h-5zM308 330h5v4h-5zM390 334h5v4h-5zM555 334h4v4h-4zM144 338h10v5h-10zM323 338h5v9h-5zM217 338h5v18h-5zM154 343h10v4h-10zM304 343h4v4h-4zM193 347h4v5h-4zM125 347h5v39h-5zM246 356h5v4h-5zM395 365h5v4h-5zM116 373h4v9h-4zM381 378h5v4h-5zM120 378h5v17h-5zM318 378h5v26h-5zM207 386h5v5h-5zM381 386h5v5h-5zM212 391h5v8h-5zM395 399h5v5h-5zM299 417h5v4h-5zM390 421h5v9h-5zM212 426h5v13h-5zM130 426h5v30h-5zM125 434h5v26h-5zM183 443h5v4h-5zM588 443h5v4h-5zM207 460h5v5h-5zM381 465h5v9h-5zM593 469h5v5h-5zM120 474h5v8h-5zM337 478h5v4h-5z"/>
<path fill="#f8bda1" d="M390 42h5v31h-5zM135 42h5v48h-5zM608 42h4v92h-4zM612 42h5v105h-5zM173 42h5v140h-5zM280 55h4v148h-4zM260 68h5v35h-5zM559 103h10v31h-10zM265 121h5v17h-5zM333 121h4v69h-4zM564 147h5v13h-5zM612 151h5v5h-5zM506 156h5v4h-5zM169 156h4v52h-4zM386 160h4v4h-4zM255 173h5v4h-5zM328 173h5v22h-5zM294 186h5v70h-5zM381 203h5v5h-5zM289 203h5v48h-5zM357 221h5v4h-5zM376 221h5v4h-5zM323 221h5v13h-5zM188 225h5v5h-5zM275 225h5v5h-5zM362 230h14v4h-14zM299 234h5v30h-5zM318 243h5v13h-5zM265 247h5v17h-5zM284 247h5v17h-5zM347 251h5v13h-5zM304 256h4v4h-4zM313 256h5v13h-5zM294 260h5v4h-5zM183 264h10v5h-10zM337 264h5v9h-5zM178 269h5v4h-5zM318 269h5v8h-5zM400 269h5v13h-5zM323 273h5v13h-5zM395 277h5v5h-5zM540 282h5v9h-5zM588 282h5v13h-5zM352 286h5v5h-5zM328 286h5v13h-5zM347 295h5v4h-5zM323 299h5v13h-5zM140 299h4v18h-4zM337 304h5v4h-5zM116 304h4v8h-4zM333 308h4v4h-4zM328 312h5v5h-5zM540 312h5v5h-5zM120 312h5v9h-5zM390 312h5v22h-5zM386 317h4v4h-4zM318 317h5v13h-5zM164 321h5v4h-5zM197 325h5v5h-5zM313 325h5v9h-5zM217 325h5v13h-5zM323 325h5v13h-5zM144 334h10v4h-10zM226 334h5v4h-5zM241 334h5v4h-5zM159 334h5v9h-5zM308 334h5v9h-5zM154 338h5v5h-5zM545 343h10v4h-10zM304 347h4v5h-4zM395 347h5v5h-5zM193 352h4v4h-4zM116 369h4v4h-4zM120 369h5v9h-5zM318 369h5v9h-5zM381 382h5v4h-5zM125 386h5v5h-5zM390 386h5v5h-5zM212 399h5v27h-5zM583 413h5v4h-5zM241 417h5v4h-5zM390 417h5v4h-5zM299 421h5v5h-5zM125 421h5v13h-5zM294 430h5v4h-5zM212 439h5v4h-5zM289 439h5v4h-5zM588 447h5v18h-5zM583 456h5v4h-5zM130 456h5v13h-5zM125 460h5v9h-5zM381 474h5v8h-5z"/>
<path fill="#f5ab89" d="M405 42h5v9h-5zM188 42h5v48h-5zM333 42h4v79h-4zM564 55h5v48h-5zM559 81h5v22h-5zM265 90h5v31h-5zM169 90h4v66h-4zM612 147h5v4h-5zM386 156h4v4h-4zM255 169h5v4h-5zM333 190h4v18h-4zM328 195h5v22h-5zM381 199h5v4h-5zM545 208h5v4h-5zM376 217h5v4h-5zM275 217h5v8h-5zM352 225h5v5h-5zM362 225h14v5h-14zM188 230h5v8h-5zM323 234h5v17h-5zM347 247h5v4h-5zM289 251h5v13h-5zM294 256h5v4h-5zM318 256h5v13h-5zM178 264h5v5h-5zM265 264h5v5h-5zM284 264h5v5h-5zM357 264h5v5h-5zM323 264h5v9h-5zM337 273h5v13h-5zM328 277h5v9h-5zM333 277h4v18h-4zM395 282h10v4h-10zM140 282h4v17h-4zM342 295h5v4h-5zM337 299h5v5h-5zM328 299h5v13h-5zM333 304h4v4h-4zM395 304h5v4h-5zM164 304h5v17h-5zM116 312h4v5h-4zM323 312h5v13h-5zM120 321h5v4h-5zM386 321h4v4h-4zM144 325h5v9h-5zM149 330h5v4h-5zM159 330h5v4h-5zM197 330h5v4h-5zM318 330h5v13h-5zM154 334h5v4h-5zM313 334h5v9h-5zM555 338h4v5h-4zM308 343h5v4h-5zM304 352h4v4h-4zM386 356h4v4h-4zM318 356h5v13h-5zM116 365h9v4h-9zM390 391h5v4h-5zM125 391h5v8h-5zM395 395h5v4h-5zM390 413h5v4h-5zM125 417h5v4h-5zM241 421h5v5h-5zM299 426h5v8h-5zM294 434h5v5h-5zM212 443h5v4h-5zM304 443h4v13h-4zM284 447h5v5h-5zM583 452h5v4h-5zM588 465h5v4h-5zM125 469h10v5h-10zM299 474h5v8h-5zM593 474h5v8h-5z"/>
<path fill="#ed9475" d="M564 42h5v13h-5zM559 42h5v39h-5zM169 42h4v48h-4zM260 51h5v17h-5zM265 51h5v39h-5zM386 138h4v18h-4zM255 156h5v13h-5zM550 160h5v13h-5zM270 169h5v8h-5zM381 195h5v4h-5zM337 195h5v13h-5zM333 208h4v9h-4zM376 208h5v9h-5zM275 212h5v5h-5zM357 217h5v4h-5zM366 217h10v8h-10zM328 217h5v26h-5zM362 221h4v4h-4zM164 230h5v13h-5zM188 238h5v13h-5zM323 251h5v13h-5zM140 251h4v31h-4zM357 256h5v4h-5zM183 256h5v8h-5zM188 260h5v4h-5zM342 260h5v9h-5zM347 264h5v5h-5zM328 269h5v8h-5zM333 273h4v4h-4zM164 282h5v22h-5zM395 286h5v5h-5zM342 286h5v9h-5zM337 286h5v13h-5zM289 291h5v4h-5zM347 291h5v4h-5zM333 295h4v9h-4zM395 295h5v9h-5zM395 308h5v4h-5zM116 317h4v4h-4zM144 321h5v4h-5zM149 325h5v5h-5zM159 325h5v5h-5zM154 330h5v4h-5zM313 343h5v4h-5zM318 343h5v13h-5zM308 347h5v5h-5zM193 356h4v4h-4zM304 356h4v4h-4zM116 360h4v5h-4zM231 365h5v4h-5zM395 369h5v4h-5zM390 395h5v18h-5zM125 399h5v18h-5zM188 413h5v4h-5zM304 426h4v17h-4zM241 426h5v56h-5zM299 434h5v40h-5zM294 439h5v35h-5zM289 443h5v4h-5zM304 456h4v18h-4zM313 456h5v18h-5zM207 465h5v4h-5zM588 469h5v13h-5zM125 474h5v4h-5zM130 474h5v8h-5z"/>
<path fill="#e27d63" d="M260 42h10v9h-10zM337 77h5v118h-5zM386 116h4v22h-4zM255 138h5v18h-5zM506 151h5v5h-5zM270 151h5v18h-5zM270 177h5v9h-5zM381 186h5v9h-5zM342 195h5v8h-5zM164 195h5v35h-5zM376 203h5v5h-5zM275 208h5v4h-5zM337 208h5v9h-5zM371 208h5v9h-5zM366 212h5v5h-5zM362 217h4v4h-4zM333 217h4v8h-4zM270 221h5v13h-5zM140 238h4v13h-4zM328 243h5v13h-5zM164 243h5v39h-5zM183 251h5v5h-5zM188 251h5v9h-5zM342 256h5v4h-5zM178 256h5v8h-5zM357 260h5v4h-5zM289 264h5v5h-5zM328 264h5v5h-5zM284 269h5v4h-5zM333 269h4v4h-4zM342 269h5v17h-5zM352 282h5v4h-5zM395 291h5v4h-5zM540 308h5v4h-5zM395 312h5v5h-5zM144 312h5v9h-5zM149 317h5v8h-5zM159 317h5v8h-5zM116 321h4v4h-4zM154 321h5v9h-5zM120 325h5v5h-5zM386 325h4v5h-4zM241 330h5v4h-5zM255 334h5v4h-5zM545 338h10v5h-10zM395 343h5v4h-5zM313 347h5v9h-5zM308 352h5v4h-5zM116 356h4v4h-4zM120 360h5v5h-5zM304 360h4v5h-4zM193 360h4v22h-4zM395 391h5v4h-5zM304 413h4v13h-4zM313 443h5v13h-5zM289 447h5v5h-5zM583 447h5v5h-5zM294 474h5v8h-5zM304 474h4v8h-4zM313 474h5v8h-5zM125 478h5v4h-5z"/>
<path fill="#d86551" d="M337 42h5v35h-5zM140 42h4v57h-4zM386 95h4v21h-4zM342 99h5v96h-5zM270 121h5v30h-5zM381 177h5v9h-5zM164 182h5v13h-5zM270 186h5v35h-5zM275 195h5v13h-5zM376 199h5v4h-5zM140 199h4v39h-4zM342 203h5v5h-5zM371 203h5v5h-5zM366 208h5v4h-5zM362 212h4v5h-4zM337 217h5v4h-5zM352 221h5v4h-5zM333 225h4v44h-4zM270 234h5v4h-5zM178 238h5v18h-5zM183 247h5v4h-5zM328 256h5v8h-5zM347 269h5v4h-5zM284 273h5v4h-5zM347 286h5v5h-5zM144 308h5v4h-5zM149 312h5v5h-5zM159 312h5v5h-5zM222 312h4v5h-4zM154 317h5v4h-5zM395 317h5v4h-5zM116 325h4v5h-4zM120 330h5v4h-5zM386 330h4v4h-4zM197 334h5v4h-5zM555 343h4v4h-4zM386 352h4v4h-4zM120 356h5v4h-5zM308 356h5v4h-5zM313 356h5v9h-5zM304 365h4v13h-4zM395 373h5v5h-5zM400 395h5v9h-5zM304 399h4v14h-4zM236 413h5v4h-5zM555 413h4v4h-4zM313 413h5v13h-5zM583 417h5v4h-5zM308 426h5v30h-5zM313 439h5v4h-5zM583 443h5v4h-5zM183 447h5v5h-5zM202 447h5v5h-5zM284 452h10v4h-10z"/>
<path fill="#cc4c44" d="M342 42h5v57h-5zM487 42h5v87h-5zM386 68h4v27h-4zM140 99h4v100h-4zM347 103h5v70h-5zM270 108h5v13h-5zM255 134h5v4h-5zM275 142h5v53h-5zM164 156h5v26h-5zM381 173h5v4h-5zM550 173h5v4h-5zM376 190h5v9h-5zM371 195h5v8h-5zM366 203h5v5h-5zM342 208h5v9h-5zM357 212h5v5h-5zM270 238h5v5h-5zM183 243h5v4h-5zM289 269h5v4h-5zM347 273h5v4h-5zM352 277h5v5h-5zM400 286h5v5h-5zM241 295h5v9h-5zM144 304h5v4h-5zM540 304h5v4h-5zM149 308h5v4h-5zM159 308h5v4h-5zM154 312h5v5h-5zM395 321h5v13h-5zM116 330h4v26h-4zM386 334h4v4h-4zM120 352h5v4h-5zM246 352h5v4h-5zM308 360h5v5h-5zM313 365h5v13h-5zM202 373h5v13h-5zM395 378h5v13h-5zM304 378h4v21h-4zM400 391h5v4h-5zM217 395h5v18h-5zM313 395h5v18h-5zM400 404h5v4h-5zM308 413h5v13h-5zM313 426h5v13h-5zM202 439h5v8h-5zM212 447h5v5h-5zM202 452h5v4h-5zM308 456h5v18h-5zM289 456h5v26h-5z"/>
<path fill="#c03338" d="M386 42h4v26h-4zM347 42h5v61h-5zM270 42h5v66h-5zM275 42h5v100h-5zM164 112h5v44h-5zM255 125h5v9h-5zM506 147h5v4h-5zM381 156h5v17h-5zM347 173h5v17h-5zM376 173h5v17h-5zM371 190h5v5h-5zM366 199h5v4h-5zM357 208h9v4h-9zM178 212h5v26h-5zM352 217h5v4h-5zM337 221h5v4h-5zM183 238h5v5h-5zM270 243h5v26h-5zM241 260h5v35h-5zM289 273h5v4h-5zM284 277h5v5h-5zM347 277h5v9h-5zM144 291h5v13h-5zM540 295h5v9h-5zM159 299h5v9h-5zM241 304h5v4h-5zM154 304h5v8h-5zM120 334h5v4h-5zM545 334h5v4h-5zM395 334h5v9h-5zM197 338h5v5h-5zM226 338h5v5h-5zM386 347h4v5h-4zM308 365h5v13h-5zM231 369h5v4h-5zM217 378h5v17h-5zM313 378h5v17h-5zM202 386h5v27h-5zM308 399h5v14h-5zM400 408h5v5h-5zM217 413h5v8h-5zM202 426h5v13h-5zM583 439h5v4h-5zM284 456h5v9h-5zM308 474h5v8h-5z"/>
<path fill="#b31a2c" d="M506 42h5v5h-5zM164 42h5v70h-5zM381 108h5v48h-5zM376 121h5v52h-5zM506 142h5v5h-5zM371 156h5v34h-5zM366 169h5v30h-5zM178 169h5v43h-5zM347 190h5v9h-5zM362 203h4v5h-4zM545 212h5v5h-5zM342 217h5v4h-5zM337 225h5v5h-5zM183 234h5v4h-5zM347 243h5v4h-5zM342 251h5v5h-5zM159 264h5v35h-5zM289 277h5v14h-5zM144 282h5v9h-5zM284 282h5v13h-5zM540 291h5v4h-5zM154 291h5v13h-5zM149 304h5v4h-5zM241 308h5v4h-5zM241 325h5v5h-5zM251 334h4v4h-4zM386 338h4v9h-4zM120 338h5v14h-5zM555 347h4v5h-4zM217 373h5v5h-5zM231 373h5v5h-5zM308 378h5v21h-5zM400 386h5v5h-5zM400 413h5v4h-5zM202 413h5v13h-5zM188 417h5v4h-5zM217 421h5v5h-5zM284 465h5v17h-5zM207 469h5v5h-5z"/>
<path fill="#9b1127" d="M178 42h5v70h-5zM246 42h5v105h-5zM352 42h5v175h-5zM159 42h5v222h-5zM506 47h5v8h-5zM381 51h5v57h-5zM376 90h5v31h-5zM255 112h5v13h-5zM371 112h5v44h-5zM178 138h5v31h-5zM366 156h5v13h-5zM362 169h4v34h-4zM357 169h5v39h-5zM347 199h5v9h-5zM183 221h5v13h-5zM337 230h5v8h-5zM342 247h5v4h-5zM154 264h5v27h-5zM352 273h5v4h-5zM400 291h5v4h-5zM149 299h5v5h-5zM241 312h5v13h-5zM222 317h4v26h-4zM197 343h5v4h-5zM226 343h5v4h-5zM231 378h5v8h-5zM193 382h4v4h-4zM236 417h5v4h-5zM400 417h5v4h-5zM583 421h5v18h-5zM217 426h5v4h-5zM183 452h5v4h-5z"/>
<path fill="#810823" d="M381 42h5v9h-5zM376 42h5v48h-5zM371 42h5v70h-5zM366 42h5v114h-5zM357 42h9v127h-9zM154 42h5v222h-5zM506 55h5v87h-5zM255 99h5v13h-5zM178 112h5v26h-5zM251 112h4v35h-4zM183 112h5v109h-5zM246 147h5v109h-5zM550 177h5v5h-5zM347 208h5v26h-5zM342 221h5v4h-5zM347 238h5v5h-5zM337 238h5v22h-5zM342 243h5v4h-5zM251 251h4v5h-4zM352 260h5v13h-5zM144 264h5v18h-5zM251 277h4v57h-4zM255 291h5v43h-5zM149 295h5v4h-5zM550 334h5v4h-5zM400 334h5v13h-5zM222 343h4v30h-4zM246 347h5v5h-5zM226 347h5v18h-5zM197 347h5v22h-5zM555 352h4v17h-4zM400 382h5v4h-5zM193 386h4v9h-4zM231 386h5v9h-5zM217 430h5v4h-5zM212 452h5v4h-5z"/>
<path fill="#67001f" d="M255 42h5v57h-5zM183 42h5v70h-5zM251 42h4v70h-4zM492 42h9v87h-9zM419 42h5v92h-5zM501 42h5v96h-5zM535 42h5v205h-5zM144 42h5v222h-5zM149 42h5v253h-5zM251 147h4v104h-4zM550 182h5v152h-5zM545 217h5v117h-5zM342 225h5v18h-5zM347 234h5v4h-5zM251 256h4v21h-4zM246 256h5v91h-5zM400 295h5v39h-5zM400 347h5v35h-5zM226 365h5v117h-5zM555 369h4v44h-4zM197 369h5v113h-5zM222 373h4v109h-4zM193 395h4v87h-4zM231 395h5v87h-5zM188 421h5v61h-5zM236 421h5v61h-5zM217 434h5v48h-5zM183 456h5v26h-5zM202 456h5v26h-5zM212 456h5v26h-5zM207 474h5v8h-5z"/>
</g>
<rect x="116.3" y="42.0" width="564.0" height="440.2" fill="none" stroke="#000" stroke-width="2.1"/>
<path d="M105.5 44.4H116.3M105.5 131.5H116.3M105.5 218.7H116.3M105.5 305.8H116.3M105.5 393.0H116.3M105.5 480.1H116.3M122.7 482.2V492.9M277.1 482.2V492.9M431.5 482.2V492.9M585.9 482.2V492.9" stroke="#000" stroke-width="2.1" fill="none"/>
<text x="94.2" y="56.0" text-anchor="end" font-size="30.9" font-family="'DejaVu Sans','Liberation Sans',sans-serif">0</text>
<text x="94.2" y="143.1" text-anchor="end" font-size="30.9" font-family="'DejaVu Sans','Liberation Sans',sans-serif">−20</text>
<text x="94.2" y="230.3" text-anchor="end" font-size="30.9" font-family="'DejaVu Sans','Liberation Sans',sans-serif">−40</text>
<text x="94.2" y="317.4" text-anchor="end" font-size="30.9" font-family="'DejaVu Sans','Liberation Sans',sans-serif">−60</text>
<text x="94.2" y="404.6" text-anchor="end" font-size="30.9" font-family="'DejaVu Sans','Liberation Sans',sans-serif">−80</text>
<text x="94.2" y="491.7" text-anchor="end" font-size="30.9" font-family="'DejaVu Sans','Liberation Sans',sans-serif">−100</text>
<text transform="translate(20.4,254.4) rotate(-90)" text-anchor="middle" font-size="30.9" font-family="'DejaVu Sans','Liberation Sans',sans-serif">m</text>
<text x="99.4" y="525.6" font-size="30.9" font-family="'DejaVu Sans','Liberation Sans',sans-serif">72.0°E</text>
<text x="235.7" y="525.6" font-size="30.9" font-family="'DejaVu Sans','Liberation Sans',sans-serif">72.5°E</text>
<text x="373.4" y="525.6" font-size="30.9" font-family="'DejaVu Sans','Liberation Sans',sans-serif">73.0°E</text>
<text x="510.4" y="525.6" font-size="30.9" font-family="'DejaVu Sans','Liberation Sans',sans-serif">73.5°E</text>
<text x="118.0" y="26.0" font-size="34.5" font-family="'Liberation Serif','DejaVu Serif',serif">(A)</text>
<rect x="115.90" y="576.4" width="19.32" height="28.7" fill="#053061"/><rect x="134.72" y="576.4" width="19.32" height="28.7" fill="#0f437b"/><rect x="153.53" y="576.4" width="19.32" height="28.7" fill="#185595"/><rect x="172.35" y="576.4" width="19.32" height="28.7" fill="#2268ad"/><rect x="191.17" y="576.4" width="19.32" height="28.7" fill="#2e77b5"/><rect x="209.98" y="576.4" width="19.32" height="28.7" fill="#3a87bd"/><rect x="228.80" y="576.4" width="19.32" height="28.7" fill="#4896c5"/><rect x="247.62" y="576.4" width="19.32" height="28.7" fill="#64a8ce"/><rect x="266.43" y="576.4" width="19.32" height="28.7" fill="#7fb9d7"/><rect x="285.25" y="576.4" width="19.32" height="28.7" fill="#99c8e0"/><rect x="304.07" y="576.4" width="19.32" height="28.7" fill="#aed3e6"/><rect x="322.88" y="576.4" width="19.32" height="28.7" fill="#c4deec"/><rect x="341.70" y="576.4" width="19.32" height="28.7" fill="#d6e7f1"/><rect x="360.52" y="576.4" width="19.32" height="28.7" fill="#e3eef3"/><rect x="379.33" y="576.4" width="19.32" height="28.7" fill="#f0f4f6"/><rect x="398.15" y="576.4" width="19.32" height="28.7" fill="#f8f2ef"/><rect x="416.97" y="576.4" width="19.32" height="28.7" fill="#fae9de"/><rect x="435.78" y="576.4" width="19.32" height="28.7" fill="#fcdfce"/><rect x="454.60" y="576.4" width="19.32" height="28.7" fill="#fbd0b9"/><rect x="473.42" y="576.4" width="19.32" height="28.7" fill="#f8bda1"/><rect x="492.23" y="576.4" width="19.32" height="28.7" fill="#f5ab89"/><rect x="511.05" y="576.4" width="19.32" height="28.7" fill="#ed9475"/><rect x="529.87" y="576.4" width="19.32" height="28.7" fill="#e27d63"/><rect x="548.68" y="576.4" width="19.32" height="28.7" fill="#d86551"/><rect x="567.50" y="576.4" width="19.32" height="28.7" fill="#cc4c44"/><rect x="586.32" y="576.4" width="19.32" height="28.7" fill="#c03338"/><rect x="605.13" y="576.4" width="19.32" height="28.7" fill="#b31a2c"/><rect x="623.95" y="576.4" width="19.32" height="28.7" fill="#9b1127"/><rect x="642.77" y="576.4" width="19.32" height="28.7" fill="#810823"/><rect x="661.58" y="576.4" width="19.32" height="28.7" fill="#67001f"/>
<rect x="115.9" y="576.4" width="564.5" height="28.7" fill="none" stroke="#000" stroke-width="2.1"/>
<path d="M116.0 605.1V615.9M256.8 605.1V615.9M397.9 605.1V615.9M539.3 605.1V615.9M680.2 605.1V615.9" stroke="#000" stroke-width="2.1" fill="none"/>
<text x="116.0" y="649.8" text-anchor="middle" font-size="30.9" font-family="'DejaVu Sans','Liberation Sans',sans-serif">−1.0</text>
<text x="256.8" y="649.8" text-anchor="middle" font-size="30.9" font-family="'DejaVu Sans','Liberation Sans',sans-serif">−0.5</text>
<text x="397.9" y="649.8" text-anchor="middle" font-size="30.9" font-family="'DejaVu Sans','Liberation Sans',sans-serif">0.0</text>
<text x="539.3" y="649.8" text-anchor="middle" font-size="30.9" font-family="'DejaVu Sans','Liberation Sans',sans-serif">0.5</text>
<text x="680.2" y="649.8" text-anchor="middle" font-size="30.9" font-family="'DejaVu Sans','Liberation Sans',sans-serif">1.0</text>
<text x="325.6" y="704.4" font-size="34.0" font-family="'DejaVu Sans','Liberation Sans',sans-serif">1/s</text><text x="397.3" y="704.4" font-size="34.0" font-family="'DejaVu Sans','Liberation Sans',sans-serif">10<tspan dy="-13.2" dx="1.2" font-size="23.8">−5</tspan></text>
</g>
<g id="panelB">
<g shape-rendering="crispEdges">
<path fill="#053061" d="M1171 100h4v170h-4zM833 196h5v188h-5zM1147 235h4v18h-4zM857 244h5v126h-5zM862 253h5v196h-5zM838 288h5v187h-5zM867 292h5v179h-5zM1041 418h4v31h-4z"/>
<path fill="#0f437b" d="M1171 96h4v4h-4zM833 170h5v26h-5zM1147 227h4v8h-4zM857 227h5v17h-5zM862 231h5v22h-5zM838 262h5v26h-5zM1171 270h4v5h-4zM848 344h5v61h-5zM843 362h5v96h-5zM857 370h5v14h-5zM833 384h5v17h-5zM872 392h5v79h-5zM862 449h5v13h-5zM867 471h5v8h-5zM838 475h5v9h-5zM891 475h5v9h-5z"/>
<path fill="#185595" d="M1171 92h4v4h-4zM833 148h5v22h-5zM862 209h5v22h-5zM1147 214h4v13h-4zM857 222h5v5h-5zM838 240h5v22h-5zM867 288h5v4h-5zM848 314h5v30h-5zM843 336h5v26h-5zM872 370h5v22h-5zM857 384h5v8h-5zM833 401h5v17h-5zM1041 401h4v17h-4zM848 405h5v18h-5zM843 458h5v26h-5zM862 462h5v9h-5zM891 462h5v13h-5zM872 471h5v8h-5zM867 479h5v5h-5z"/>
<path fill="#2268ad" d="M1171 83h4v9h-4zM833 140h5v8h-5zM862 192h5v17h-5zM1147 209h4v5h-4zM838 209h5v31h-5zM857 218h5v4h-5zM848 301h5v13h-5zM853 301h4v74h-4zM843 314h5v22h-5zM1190 314h5v22h-5zM872 366h5v4h-5zM857 392h5v22h-5zM1041 397h4v4h-4zM1036 405h5v13h-5zM833 418h5v13h-5zM848 423h5v61h-5zM891 453h5v9h-5zM862 471h5v8h-5zM872 479h5v5h-5z"/>
<path fill="#2e77b5" d="M1171 79h4v4h-4zM833 127h5v13h-5zM1180 153h5v87h-5zM862 174h5v18h-5zM838 183h5v26h-5zM828 183h5v187h-5zM1147 205h4v4h-4zM857 214h5v4h-5zM867 275h5v13h-5zM848 275h5v26h-5zM853 283h4v18h-4zM843 301h5v13h-5zM1190 309h5v5h-5zM1190 336h5v13h-5zM872 357h5v9h-5zM896 375h5v4h-5zM1026 375h5v9h-5zM853 375h4v65h-4zM1036 401h5v4h-5zM857 414h5v26h-5zM1036 418h5v5h-5zM833 431h5v9h-5zM891 449h5v4h-5zM862 479h5v5h-5z"/>
<path fill="#3a87bd" d="M1171 74h4v5h-4zM833 113h5v14h-5zM1180 127h5v26h-5zM828 157h5v26h-5zM862 161h5v13h-5zM838 170h5v13h-5zM1142 192h5v9h-5zM857 201h5v13h-5zM1180 240h5v13h-5zM848 253h5v22h-5zM1190 257h5v52h-5zM867 266h5v9h-5zM853 266h4v17h-4zM843 292h5v9h-5zM872 349h5v8h-5zM1190 349h5v8h-5zM896 366h5v9h-5zM1026 370h5v5h-5zM828 370h5v18h-5zM896 379h5v22h-5zM1195 388h5v48h-5zM1041 392h4v5h-4zM1036 397h5v4h-5zM901 418h9v66h-9zM1036 423h5v4h-5zM833 440h5v9h-5zM891 440h5v9h-5zM853 440h9v26h-9zM896 458h5v26h-5z"/>
<path fill="#4896c5" d="M1171 70h4v4h-4zM833 100h5v13h-5zM1180 118h5v9h-5zM828 144h5v13h-5zM862 148h5v13h-5zM838 157h5v13h-5zM1142 179h5v13h-5zM857 183h5v18h-5zM1147 201h4v4h-4zM877 209h4v66h-4zM848 240h5v13h-5zM1190 253h5v4h-5zM853 253h4v13h-4zM867 253h5v13h-5zM1180 253h5v13h-5zM1171 275h4v4h-4zM843 283h5v9h-5zM896 336h5v30h-5zM872 340h5v9h-5zM1190 357h5v9h-5zM1195 379h5v9h-5zM1026 384h5v4h-5zM828 388h5v13h-5zM901 401h9v17h-9zM896 401h5v57h-5zM891 436h5v4h-5zM1195 436h5v48h-5zM833 449h5v13h-5zM853 466h9v18h-9zM1204 471h5v13h-5z"/>
<path fill="#64a8ce" d="M1171 66h4v4h-4zM833 92h5v8h-5zM1180 109h5v9h-5zM828 131h5v13h-5zM862 140h5v8h-5zM838 144h5v13h-5zM877 157h4v52h-4zM857 166h5v17h-5zM1142 174h5v5h-5zM1147 196h4v5h-4zM848 222h5v18h-5zM853 240h4v13h-4zM867 244h5v9h-5zM1190 249h5v4h-5zM1180 266h5v9h-5zM877 275h4v26h-4zM843 279h5v4h-5zM896 301h5v35h-5zM872 331h5v9h-5zM1195 357h5v22h-5zM1026 366h5v4h-5zM1190 366h5v9h-5zM1041 388h4v4h-4zM1036 392h5v5h-5zM901 392h9v9h-9zM828 401h5v17h-5zM1036 427h5v4h-5zM891 431h5v5h-5zM833 462h5v9h-5zM1204 462h5v9h-5z"/>
<path fill="#7fb9d7" d="M1171 61h4v5h-4zM833 87h5v5h-5zM1180 96h5v13h-5zM1036 109h5v100h-5zM828 118h5v13h-5zM862 127h5v13h-5zM838 135h5v9h-5zM877 135h4v22h-4zM857 153h5v13h-5zM1142 166h5v8h-5zM1147 188h4v8h-4zM848 196h5v26h-5zM853 222h4v18h-4zM867 231h5v13h-5zM1175 240h5v17h-5zM843 270h5v9h-5zM1180 275h5v4h-5zM896 283h5v18h-5zM877 301h4v35h-4zM872 323h5v8h-5zM1195 336h5v21h-5zM1171 362h4v4h-4zM1190 375h5v9h-5zM901 384h9v8h-9zM1026 388h5v4h-5zM1204 401h5v61h-5zM828 418h5v9h-5zM891 423h5v8h-5zM1036 431h5v5h-5zM1209 462h5v22h-5zM833 471h5v8h-5z"/>
<path fill="#99c8e0" d="M1171 57h4v4h-4zM833 79h5v8h-5zM1180 87h5v9h-5zM1036 96h5v13h-5zM828 105h5v13h-5zM862 109h5v18h-5zM838 122h5v13h-5zM877 122h4v13h-4zM857 140h5v13h-5zM1142 153h5v13h-5zM1147 179h4v9h-4zM848 179h5v17h-5zM1175 183h5v57h-5zM853 196h4v26h-4zM1036 209h5v13h-5zM867 209h5v22h-5zM1190 240h5v9h-5zM1041 253h4v13h-4zM1175 257h5v9h-5zM843 257h5v13h-5zM896 275h5v8h-5zM1180 279h5v9h-5zM872 309h5v14h-5zM1195 318h5v18h-5zM877 336h4v30h-4zM1171 353h4v4h-4zM1026 362h5v4h-5zM906 370h4v14h-4zM901 375h5v9h-5zM1041 384h4v4h-4zM1204 384h5v17h-5zM1036 388h5v4h-5zM1026 392h5v5h-5zM1209 401h5v61h-5zM891 418h5v5h-5zM828 427h5v9h-5zM915 436h5v48h-5zM1026 449h5v17h-5zM1214 462h5v22h-5zM833 479h5v5h-5z"/>
<path fill="#aed3e6" d="M833 70h5v9h-5zM1180 79h5v8h-5zM1036 83h5v13h-5zM828 92h5v13h-5zM862 92h5v17h-5zM838 100h5v22h-5zM877 100h4v22h-4zM857 122h5v18h-5zM1142 122h5v31h-5zM1175 140h5v43h-5zM867 157h5v52h-5zM848 161h5v18h-5zM1147 166h4v13h-4zM853 174h4v22h-4zM1036 222h5v9h-5zM1190 231h5v9h-5zM843 240h5v17h-5zM1041 249h4v4h-4zM896 262h5v13h-5zM1175 266h5v4h-5zM1180 288h5v43h-5zM872 296h5v13h-5zM1195 305h5v13h-5zM1171 349h4v4h-4zM906 366h4v4h-4zM901 366h5v9h-5zM877 366h4v22h-4zM1204 375h5v9h-5zM1041 379h4v5h-4zM1209 388h5v13h-5zM891 410h5v8h-5zM1031 414h5v13h-5zM915 423h5v13h-5zM1036 436h5v4h-5zM828 436h5v9h-5zM1026 440h5v9h-5zM1214 453h5v9h-5zM1031 458h5v13h-5zM1185 466h5v9h-5zM1026 466h5v18h-5zM910 479h5v5h-5z"/>
<path fill="#c4deec" d="M1171 52h4v5h-4zM833 66h5v4h-5zM1180 70h5v9h-5zM1036 74h5v9h-5zM828 83h5v9h-5zM862 83h5v9h-5zM838 87h5v13h-5zM877 87h4v13h-4zM1142 96h5v26h-5zM857 100h5v22h-5zM1175 100h5v40h-5zM867 131h5v26h-5zM848 140h5v21h-5zM1147 144h4v22h-4zM853 153h4v21h-4zM843 170h5v70h-5zM1190 222h5v9h-5zM1036 231h5v9h-5zM896 253h5v9h-5zM1171 279h4v4h-4zM872 279h5v17h-5zM891 279h5v52h-5zM1195 296h5v9h-5zM1180 331h5v9h-5zM1204 336h5v39h-5zM1026 357h5v5h-5zM901 357h9v9h-9zM1041 370h4v9h-4zM1036 384h5v4h-5zM1209 384h5v4h-5zM877 388h4v17h-4zM1026 397h5v4h-5zM891 397h5v13h-5zM1031 401h5v13h-5zM915 414h5v9h-5zM1031 427h5v13h-5zM1026 436h5v4h-5zM1214 445h5v8h-5zM828 445h5v17h-5zM1031 471h5v4h-5zM910 471h5v8h-5zM1185 475h5v4h-5zM997 479h5v5h-5z"/>
<path fill="#d6e7f1" d="M1171 48h4v4h-4zM833 57h5v9h-5zM1180 61h5v9h-5zM1036 61h5v13h-5zM828 70h5v13h-5zM862 70h5v13h-5zM838 70h5v17h-5zM877 70h4v17h-4zM1142 70h5v26h-5zM1175 74h5v26h-5zM857 83h5v17h-5zM1147 92h4v52h-4zM867 100h5v31h-5zM848 100h5v40h-5zM853 127h4v26h-4zM843 127h5v43h-5zM756 127h5v222h-5zM944 153h5v231h-5zM752 157h4v105h-4zM1190 214h5v8h-5zM1036 240h9v9h-9zM896 244h5v9h-5zM891 262h5v17h-5zM872 266h5v13h-5zM1151 283h5v5h-5zM1195 288h5v8h-5zM761 301h5v74h-5zM1204 331h5v5h-5zM891 331h5v26h-5zM1180 340h5v13h-5zM901 349h5v8h-5zM906 353h4v4h-4zM1041 366h4v4h-4zM1175 375h5v26h-5zM1036 379h5v5h-5zM1209 379h5v5h-5zM891 384h5v13h-5zM1031 388h5v13h-5zM915 397h5v17h-5zM1026 401h5v9h-5zM877 405h4v26h-4zM1200 418h4v9h-4zM1026 427h5v9h-5zM1214 427h5v18h-5zM809 431h5v53h-5zM1036 440h5v5h-5zM1031 440h5v9h-5zM1031 453h5v5h-5zM910 462h5v9h-5zM828 462h5v22h-5zM997 466h5v13h-5zM1031 475h5v4h-5zM1002 475h5v9h-5zM1200 479h4v5h-4z"/>
<path fill="#e3eef3" d="M1036 48h5v13h-5zM833 52h5v5h-5zM1180 52h5v9h-5zM1142 52h5v18h-5zM1175 52h5v22h-5zM828 57h5v13h-5zM838 57h5v13h-5zM862 57h5v13h-5zM877 57h4v13h-4zM857 61h5v22h-5zM1147 61h4v31h-4zM848 70h5v30h-5zM867 70h5v30h-5zM756 83h5v44h-5zM843 83h5v44h-5zM853 83h4v44h-4zM944 83h5v70h-5zM872 83h5v183h-5zM939 83h5v348h-5zM1055 100h10v31h-10zM761 100h5v109h-5zM949 100h5v275h-5zM752 127h4v30h-4zM1190 205h5v9h-5zM1041 222h4v18h-4zM896 222h5v22h-5zM1036 249h5v8h-5zM891 253h5v9h-5zM752 262h4v87h-4zM1041 266h4v4h-4zM1175 270h5v5h-5zM761 275h5v26h-5zM1151 279h5v4h-5zM1195 279h5v9h-5zM1204 327h5v4h-5zM901 340h5v9h-5zM906 349h4v4h-4zM756 349h5v26h-5zM1026 353h5v4h-5zM1180 353h5v9h-5zM891 357h5v27h-5zM1209 366h5v13h-5zM1219 366h5v74h-5zM1175 370h5v5h-5zM1036 375h5v4h-5zM761 375h5v83h-5zM1031 379h5v9h-5zM1190 384h5v4h-5zM915 384h5v13h-5zM944 384h5v47h-5zM809 397h5v34h-5zM934 397h5v34h-5zM920 397h5v87h-5zM1200 401h4v17h-4zM1175 401h5v74h-5zM1224 405h4v40h-4zM1026 410h5v17h-5zM1214 414h5v13h-5zM1200 427h4v18h-4zM877 431h4v35h-4zM1036 445h5v4h-5zM1031 449h5v4h-5zM910 453h5v9h-5zM997 453h5v13h-5zM1002 453h5v22h-5zM1200 462h4v17h-4zM992 471h5v13h-5zM988 475h4v9h-4zM1031 479h5v5h-5zM1185 479h5v5h-5z"/>
<path fill="#f0f4f6" d="M1036 44h5v4h-5zM1171 44h4v4h-4zM833 44h5v8h-5zM1142 44h5v8h-5zM1175 44h10v8h-10zM828 44h5v13h-5zM838 44h5v13h-5zM862 44h5v13h-5zM877 44h4v13h-4zM857 44h5v17h-5zM1147 44h4v17h-4zM848 44h5v26h-5zM867 44h5v26h-5zM756 44h5v39h-5zM843 44h5v39h-5zM853 44h4v39h-4zM872 44h5v39h-5zM939 44h10v39h-10zM761 44h5v56h-5zM949 44h5v56h-5zM1055 44h10v56h-10zM1069 44h15v56h-15zM1108 44h19v56h-19zM752 44h4v83h-4zM1065 44h4v87h-4zM1084 44h24v87h-24zM954 44h5v318h-5zM934 100h5v61h-5zM920 100h5v66h-5zM959 127h4v82h-4zM1060 131h5v4h-5zM1055 131h5v13h-5zM896 153h5v69h-5zM1190 179h5v26h-5zM1031 183h5v87h-5zM1041 209h4v13h-4zM761 209h5v66h-5zM891 240h5v13h-5zM1036 257h5v13h-5zM1195 270h5v9h-5zM1175 275h5v4h-5zM1204 275h5v52h-5zM901 327h5v13h-5zM906 340h4v9h-4zM1026 344h5v9h-5zM1219 344h5v22h-5zM752 349h4v135h-4zM1209 357h5v9h-5zM1041 362h4v4h-4zM1180 362h5v13h-5zM766 362h5v122h-5zM1031 366h5v13h-5zM915 366h5v18h-5zM1036 370h5v5h-5zM934 370h5v27h-5zM809 375h5v22h-5zM949 375h5v56h-5zM756 375h5v109h-5zM920 379h5v18h-5zM1200 388h4v13h-4zM1224 388h4v17h-4zM1214 392h5v22h-5zM1228 392h5v92h-5zM771 397h4v87h-4zM1002 431h5v22h-5zM934 431h5v27h-5zM944 431h5v27h-5zM939 431h5v35h-5zM804 431h5v53h-5zM1007 431h5v53h-5zM1219 440h5v9h-5zM997 440h5v13h-5zM1224 445h4v4h-4zM1200 445h4v17h-4zM910 449h5v4h-5zM1036 449h5v4h-5zM1012 449h4v35h-4zM992 453h5v18h-5zM988 458h4v17h-4zM761 458h5v26h-5zM1185 462h5v4h-5zM877 466h4v18h-4zM978 466h10v18h-10zM814 475h5v9h-5zM968 475h10v9h-10zM1016 475h5v9h-5z"/>
<path fill="#f8f2ef" d="M886 44h5v4h-5zM1132 44h5v4h-5zM1156 44h5v4h-5zM780 44h10v8h-10zM1195 44h9v8h-9zM819 44h5v13h-5zM1016 44h5v13h-5zM1041 44h4v13h-4zM795 44h9v17h-9zM881 44h5v17h-5zM910 44h5v17h-5zM992 44h5v17h-5zM1002 44h14v17h-14zM1021 44h5v17h-5zM1127 44h5v17h-5zM1137 44h5v17h-5zM790 44h5v22h-5zM814 44h5v22h-5zM988 44h4v22h-4zM824 44h4v26h-4zM906 44h4v26h-4zM978 44h5v26h-5zM997 44h5v26h-5zM1243 44h10v26h-10zM891 44h5v39h-5zM973 44h5v39h-5zM983 44h5v39h-5zM1204 44h10v48h-10zM775 44h5v56h-5zM804 44h5v56h-5zM901 44h5v56h-5zM920 44h5v56h-5zM930 44h9v56h-9zM968 44h5v56h-5zM1026 44h5v56h-5zM1224 44h4v56h-4zM1238 44h5v56h-5zM1253 44h4v56h-4zM771 44h4v83h-4zM959 44h4v83h-4zM1214 44h5v96h-5zM1233 44h5v96h-5zM1257 44h5v96h-5zM1262 44h5v104h-5zM1281 44h5v104h-5zM809 44h5v109h-5zM896 44h5v109h-5zM915 44h5v109h-5zM963 44h5v122h-5zM1272 44h9v122h-9zM1286 44h5v122h-5zM1190 44h5v135h-5zM1219 44h5v135h-5zM1228 44h5v135h-5zM1267 44h5v135h-5zM1291 44h5v135h-5zM766 44h5v139h-5zM925 44h5v139h-5zM1031 44h5v139h-5zM1185 44h5v170h-5zM1296 44h5v218h-5zM1301 44h5v248h-5zM1306 44h4v322h-4zM1310 44h5v326h-5zM1069 100h15v31h-15zM1108 100h19v31h-19zM934 161h5v48h-5zM920 166h5v87h-5zM1041 196h4v13h-4zM1026 209h5v57h-5zM959 209h4v161h-4zM891 222h5v18h-5zM1195 253h5v17h-5zM1204 266h5v9h-5zM1036 270h5v5h-5zM1031 270h5v9h-5zM1175 279h5v9h-5zM766 279h5v83h-5zM1171 283h4v5h-4zM901 314h5v13h-5zM809 318h5v57h-5zM1219 327h5v17h-5zM906 331h4v9h-4zM1026 336h5v8h-5zM915 349h5v17h-5zM1209 353h5v4h-5zM1031 353h5v13h-5zM934 353h5v17h-5zM1041 357h4v5h-4zM1171 357h4v5h-4zM1036 357h5v13h-5zM920 357h5v22h-5zM1228 362h5v30h-5zM954 362h5v35h-5zM1171 366h9v4h-9zM1200 366h4v22h-4zM959 375h4v4h-4zM1214 375h5v17h-5zM1180 375h5v109h-5zM1224 379h4v9h-4zM771 379h4v18h-4zM804 384h5v47h-5zM925 384h5v82h-5zM1190 388h5v4h-5zM1007 388h5v43h-5zM930 388h4v70h-4zM1002 397h5v34h-5zM1012 397h4v52h-4zM997 431h5v9h-5zM949 431h5v22h-5zM992 436h5v17h-5zM910 440h5v9h-5zM988 440h4v18h-4zM978 449h10v17h-10zM1219 449h5v17h-5zM963 449h5v35h-5zM1224 449h4v35h-4zM1036 453h5v5h-5zM1185 453h5v9h-5zM814 458h5v17h-5zM968 458h10v17h-10zM1016 458h5v17h-5zM934 458h5v26h-5zM944 458h5v26h-5zM939 466h5v18h-5zM1190 466h5v18h-5zM1036 479h5v5h-5z"/>
<path fill="#fae9de" d="M1151 44h5v4h-5zM886 48h5v4h-5zM1132 48h5v9h-5zM1156 48h5v9h-5zM785 52h5v9h-5zM780 52h5v14h-5zM1195 52h5v14h-5zM1200 52h4v22h-4zM819 57h5v9h-5zM1016 57h5v13h-5zM1041 57h4v22h-4zM795 61h9v13h-9zM910 61h5v13h-5zM992 61h5v13h-5zM1002 61h5v13h-5zM1012 61h4v13h-4zM881 61h5v22h-5zM1007 61h5v22h-5zM1021 61h5v22h-5zM1137 61h5v22h-5zM1127 61h5v70h-5zM790 66h5v21h-5zM814 66h5v21h-5zM988 66h4v21h-4zM824 70h4v30h-4zM906 70h4v30h-4zM978 70h5v30h-5zM997 70h5v30h-5zM1248 70h5v70h-5zM1243 70h5v83h-5zM891 83h5v44h-5zM973 83h5v44h-5zM983 83h5v44h-5zM1209 92h5v43h-5zM1204 92h5v52h-5zM775 100h5v35h-5zM930 100h4v53h-4zM901 100h5v61h-5zM1253 100h4v61h-4zM968 100h5v66h-5zM1238 100h5v66h-5zM1224 100h4v83h-4zM804 100h5v109h-5zM1026 100h5v109h-5zM771 127h4v56h-4zM1214 140h5v65h-5zM1233 140h5v113h-5zM1257 140h5v113h-5zM1281 148h5v205h-5zM1262 148h5v253h-5zM809 153h5v165h-5zM915 153h5v196h-5zM963 166h5v87h-5zM1286 166h5v187h-5zM1272 166h9v209h-9zM1219 179h5v148h-5zM1228 179h5v183h-5zM1267 179h5v222h-5zM1291 179h5v305h-5zM925 183h5v52h-5zM766 183h5v96h-5zM891 192h5v30h-5zM934 209h5v57h-5zM1204 209h5v57h-5zM1185 214h5v13h-5zM1195 214h5v39h-5zM920 253h5v104h-5zM1296 262h5v222h-5zM1026 266h5v9h-5zM1036 275h5v4h-5zM1031 279h5v17h-5zM1175 288h5v8h-5zM1301 292h5v192h-5zM901 301h5v13h-5zM1036 301h5v56h-5zM934 318h5v35h-5zM963 318h5v52h-5zM804 318h5v66h-5zM906 323h4v8h-4zM1026 327h5v9h-5zM1031 327h5v26h-5zM1200 327h4v39h-4zM1171 344h4v5h-4zM1209 344h5v9h-5zM1224 353h4v26h-4zM925 357h5v27h-5zM1175 362h5v4h-5zM771 362h4v17h-4zM824 362h4v69h-4zM1214 366h5v9h-5zM1007 366h5v22h-5zM1012 366h4v31h-4zM1306 366h4v118h-4zM959 370h4v5h-4zM930 370h4v18h-4zM1310 370h5v114h-5zM963 375h5v74h-5zM959 379h4v22h-4zM1002 384h5v13h-5zM1190 392h5v5h-5zM954 397h5v48h-5zM997 401h5v30h-5zM992 414h5v22h-5zM988 414h4v26h-4zM910 431h5v9h-5zM978 431h10v18h-10zM959 431h4v53h-4zM1233 431h5v53h-5zM1021 436h5v48h-5zM814 440h5v18h-5zM968 440h10v18h-10zM1016 440h5v18h-5zM1185 449h5v4h-5zM949 453h5v22h-5zM1036 458h5v4h-5zM1190 458h5v8h-5zM775 458h5v26h-5zM930 458h4v26h-4zM925 466h5v18h-5zM1219 466h5v18h-5zM1036 475h5v4h-5zM1175 475h5v4h-5zM886 479h5v5h-5z"/>
<path fill="#fcdfce" d="M1151 48h5v4h-5zM886 52h5v5h-5zM1156 57h5v4h-5zM1132 57h5v9h-5zM785 61h5v5h-5zM780 66h5v8h-5zM819 66h5v13h-5zM1195 66h5v65h-5zM1016 70h5v17h-5zM795 74h9v18h-9zM910 74h5v18h-5zM992 74h5v18h-5zM1002 74h5v18h-5zM1012 74h4v18h-4zM1200 74h4v22h-4zM1041 79h4v21h-4zM1137 83h5v13h-5zM881 83h5v17h-5zM1007 83h5v17h-5zM1021 83h5v17h-5zM790 87h5v26h-5zM988 87h4v26h-4zM814 87h5v31h-5zM906 100h4v31h-4zM978 100h5v35h-5zM997 100h5v40h-5zM824 100h4v44h-4zM983 127h5v26h-5zM973 127h5v43h-5zM891 127h5v65h-5zM775 135h5v48h-5zM1209 135h5v79h-5zM1248 140h5v69h-5zM1204 144h5v65h-5zM930 153h4v39h-4zM1243 153h5v56h-5zM901 161h5v48h-5zM1253 161h4v131h-4zM968 166h5v83h-5zM1238 166h5v126h-5zM771 183h4v83h-4zM1224 183h4v113h-4zM1041 188h4v8h-4zM1195 192h5v22h-5zM1214 205h5v61h-5zM804 209h5v109h-5zM1185 227h5v87h-5zM925 235h5v122h-5zM1200 249h4v78h-4zM963 253h5v65h-5zM1233 253h5v178h-5zM1257 253h5v231h-5zM934 266h5v52h-5zM1151 275h5v4h-5zM1026 275h5v8h-5zM901 288h5v13h-5zM1036 292h5v9h-5zM1021 292h5v31h-5zM1031 296h5v31h-5zM906 309h4v14h-4zM1209 309h5v35h-5zM1224 314h4v39h-4zM1026 318h5v9h-5zM771 318h4v44h-4zM1012 318h4v48h-4zM1171 331h4v13h-4zM824 331h4v31h-4zM1041 349h4v8h-4zM1175 353h5v9h-5zM1214 353h5v13h-5zM1281 353h10v131h-10zM1007 357h5v9h-5zM930 357h4v13h-4zM963 370h5v5h-5zM1002 370h5v14h-5zM1272 375h9v109h-9zM997 388h5v13h-5zM988 397h9v17h-9zM1190 397h5v17h-5zM959 401h4v30h-4zM983 401h5v30h-5zM1016 401h5v39h-5zM1262 401h10v83h-10zM978 405h5v26h-5zM968 410h5v30h-5zM775 410h5v48h-5zM814 414h5v26h-5zM973 414h5v26h-5zM819 414h5v39h-5zM1021 418h5v18h-5zM910 423h5v8h-5zM824 431h4v9h-4zM954 445h5v26h-5zM1190 453h5v5h-5zM1036 462h5v13h-5zM886 466h5v13h-5zM800 466h4v18h-4zM949 475h5v9h-5z"/>
<path fill="#fbd0b9" d="M1151 52h5v5h-5zM886 57h5v4h-5zM1156 61h5v18h-5zM785 66h5v8h-5zM1132 66h5v13h-5zM780 74h5v9h-5zM819 79h5v8h-5zM1016 87h5v13h-5zM992 92h5v17h-5zM1002 92h5v17h-5zM795 92h9v21h-9zM1012 92h4v21h-4zM910 92h5v26h-5zM1137 96h5v17h-5zM1200 96h4v48h-4zM1007 100h5v27h-5zM1021 100h5v27h-5zM881 100h5v31h-5zM1041 100h4v53h-4zM790 113h5v22h-5zM988 113h4v22h-4zM814 118h5v30h-5zM906 131h4v39h-4zM1195 131h5v61h-5zM978 135h5v48h-5zM997 140h5v21h-5zM824 144h4v65h-4zM983 153h5v21h-5zM973 170h5v65h-5zM1041 179h4v9h-4zM775 183h5v52h-5zM930 192h4v35h-4zM901 209h5v44h-5zM1243 209h10v122h-10zM1156 214h5v21h-5zM1209 214h5v61h-5zM1200 222h4v27h-4zM968 249h5v161h-5zM1021 262h5v30h-5zM1214 266h5v9h-5zM771 266h4v52h-4zM901 270h5v18h-5zM1036 279h5v13h-5zM1209 279h5v30h-5zM1026 283h5v9h-5zM1214 283h5v70h-5zM1171 288h4v4h-4zM824 292h4v39h-4zM1238 292h5v192h-5zM1253 292h4v192h-4zM1175 296h5v5h-5zM1224 296h4v5h-4zM906 296h4v13h-4zM1012 301h4v17h-4zM1026 301h5v17h-5zM1224 309h4v5h-4zM1021 323h5v8h-5zM1171 323h4v8h-4zM910 336h5v52h-5zM1175 340h5v13h-5zM1041 344h4v5h-4zM930 349h4v8h-4zM1007 349h5v8h-5zM1002 362h5v8h-5zM1243 362h5v22h-5zM997 375h5v13h-5zM992 379h5v18h-5zM988 384h4v13h-4zM1016 384h5v17h-5zM983 388h5v13h-5zM775 388h5v22h-5zM978 392h5v13h-5zM973 392h5v22h-5zM814 397h5v17h-5zM819 401h5v13h-5zM1021 410h5v8h-5zM1190 414h5v4h-5zM1248 414h5v70h-5zM910 418h5v5h-5zM824 440h4v5h-4zM800 445h4v21h-4zM1190 449h5v4h-5zM819 453h5v9h-5zM886 458h5v8h-5zM954 471h5v13h-5zM790 475h10v9h-10zM1175 479h5v5h-5z"/>
<path fill="#f8bda1" d="M1151 57h5v4h-5zM886 61h5v5h-5zM785 74h5v9h-5zM1132 79h5v8h-5zM1156 79h5v21h-5zM780 83h5v13h-5zM819 87h5v13h-5zM1016 100h5v22h-5zM1002 109h5v18h-5zM992 109h5v22h-5zM1137 113h5v14h-5zM795 113h9v22h-9zM1012 113h4v22h-4zM910 118h5v22h-5zM1007 127h5v21h-5zM1021 127h5v26h-5zM881 131h5v22h-5zM790 135h5v26h-5zM988 135h4v26h-4zM1200 144h4v78h-4zM814 148h5v35h-5zM1041 153h4v26h-4zM997 161h5v22h-5zM906 170h4v65h-4zM983 174h5v35h-5zM978 183h5v66h-5zM1156 188h5v26h-5zM1021 209h5v53h-5zM824 209h4v83h-4zM930 227h4v30h-4zM775 235h5v44h-5zM973 235h5v48h-5zM901 253h5v17h-5zM1209 275h5v4h-5zM1214 275h5v8h-5zM906 279h4v17h-4zM1012 288h4v13h-4zM930 288h4v61h-4zM1016 288h5v96h-5zM1026 292h5v9h-5zM1224 301h4v8h-4zM910 309h5v27h-5zM1185 314h5v4h-5zM1007 327h5v22h-5zM1021 331h5v5h-5zM1243 331h5v31h-5zM1248 331h5v83h-5zM1175 336h5v4h-5zM1041 340h4v4h-4zM1002 353h5v9h-5zM775 357h5v31h-5zM997 362h5v13h-5zM992 366h5v13h-5zM973 366h5v26h-5zM988 370h4v14h-4zM983 375h5v13h-5zM978 375h5v17h-5zM814 379h5v18h-5zM1243 384h5v100h-5zM819 388h5v13h-5zM910 388h5v30h-5zM1021 405h5v5h-5zM1190 418h5v31h-5zM800 436h4v9h-4zM1185 445h5v4h-5zM824 445h4v8h-4zM886 449h5v9h-5zM790 462h10v13h-10zM819 462h5v22h-5zM780 479h5v5h-5z"/>
<path fill="#f5ab89" d="M1151 61h5v5h-5zM886 66h5v8h-5zM785 83h5v9h-5zM1132 87h5v13h-5zM780 96h5v13h-5zM819 100h5v18h-5zM1156 100h5v27h-5zM1016 122h5v18h-5zM1137 127h5v8h-5zM1002 127h5v13h-5zM992 131h5v22h-5zM795 135h5v26h-5zM800 135h4v31h-4zM1012 135h4v31h-4zM910 140h5v30h-5zM1007 148h5v26h-5zM881 153h5v17h-5zM1021 153h5v56h-5zM790 161h5v31h-5zM988 161h4v31h-4zM1156 170h5v18h-5zM997 183h5v26h-5zM814 183h5v44h-5zM983 209h5v40h-5zM906 235h4v44h-4zM978 249h5v34h-5zM930 257h4v31h-4zM1016 266h5v22h-5zM1151 270h5v5h-5zM1012 275h4v13h-4zM775 279h5v78h-5zM973 283h5v83h-5zM910 296h5v13h-5zM1007 301h5v26h-5zM1171 318h4v5h-4zM1185 318h5v9h-5zM1175 331h5v5h-5zM1021 336h5v43h-5zM1002 344h5v9h-5zM997 353h5v9h-5zM992 357h5v9h-5zM978 357h5v18h-5zM988 362h4v8h-4zM983 362h5v13h-5zM814 362h5v17h-5zM819 379h5v9h-5zM1021 397h5v8h-5zM800 423h4v13h-4zM886 445h5v4h-5zM790 449h5v13h-5zM795 453h5v9h-5zM824 453h4v9h-4zM780 471h5v8h-5z"/>
<path fill="#ed9475" d="M1151 66h5v4h-5zM886 74h5v5h-5zM785 92h5v8h-5zM1132 100h5v9h-5zM780 109h5v18h-5zM819 118h5v13h-5zM1156 127h5v21h-5zM1137 135h5v9h-5zM1002 140h5v21h-5zM1016 140h5v21h-5zM992 153h5v30h-5zM795 161h5v31h-5zM1156 166h5v4h-5zM800 166h4v43h-4zM1012 166h4v43h-4zM881 170h5v18h-5zM910 170h5v39h-5zM1007 174h5v35h-5zM988 192h4v35h-4zM790 192h5v43h-5zM997 209h5v35h-5zM814 227h5v30h-5zM1012 240h4v35h-4zM1016 249h5v17h-5zM983 249h5v26h-5zM1007 266h5v35h-5zM910 279h5v17h-5zM978 283h5v22h-5zM1175 301h5v30h-5zM1002 327h5v17h-5zM1185 327h5v57h-5zM978 331h5v26h-5zM814 336h5v26h-5zM997 344h5v9h-5zM992 349h5v8h-5zM983 349h5v13h-5zM988 353h4v9h-4zM819 370h5v9h-5zM1021 379h5v18h-5zM800 418h4v5h-4zM1185 431h5v14h-5zM790 436h5v13h-5zM886 440h5v5h-5zM795 445h5v8h-5zM824 462h4v22h-4zM780 466h5v5h-5z"/>
<path fill="#e27d63" d="M1151 70h5v4h-5zM886 79h5v8h-5zM785 100h5v13h-5zM1132 109h5v9h-5zM780 127h5v13h-5zM819 131h5v17h-5zM1137 144h5v13h-5zM1156 148h5v18h-5zM1002 161h5v22h-5zM1016 161h5v22h-5zM992 183h5v26h-5zM881 188h5v21h-5zM795 192h5v35h-5zM1012 209h4v31h-4zM800 209h4v40h-4zM1007 209h5v57h-5zM910 209h5v70h-5zM988 227h4v30h-4zM1016 231h5v18h-5zM790 235h5v31h-5zM997 244h5v35h-5zM814 257h5v79h-5zM1041 270h4v18h-4zM983 275h5v26h-5zM1171 292h4v4h-4zM1002 305h5v22h-5zM978 305h5v26h-5zM1171 314h4v4h-4zM997 327h5v17h-5zM983 331h5v18h-5zM992 331h5v18h-5zM988 340h4v13h-4zM819 362h5v8h-5zM1185 384h5v34h-5zM790 401h5v35h-5zM800 410h4v8h-4zM1185 423h5v8h-5zM886 436h5v4h-5zM795 436h5v9h-5zM780 462h5v4h-5zM785 479h5v5h-5z"/>
<path fill="#d86551" d="M1151 74h5v5h-5zM886 87h5v13h-5zM785 113h5v9h-5zM1132 118h5v13h-5zM780 140h5v13h-5zM819 148h5v13h-5zM1137 157h5v4h-5zM1002 183h5v26h-5zM1016 183h5v48h-5zM881 209h5v22h-5zM992 209h5v83h-5zM795 227h5v22h-5zM800 249h4v21h-4zM988 257h4v35h-4zM1151 266h5v4h-5zM790 266h5v26h-5zM1002 275h5v30h-5zM997 279h5v48h-5zM1171 296h4v5h-4zM983 301h5v30h-5zM1171 309h4v5h-4zM992 318h5v13h-5zM988 327h4v13h-4zM819 353h5v9h-5zM790 362h5v39h-5zM800 397h4v13h-4zM1185 418h5v5h-5zM795 423h5v13h-5zM780 453h5v9h-5zM785 475h5v4h-5z"/>
<path fill="#cc4c44" d="M886 100h5v9h-5zM785 122h5v13h-5zM1132 131h5v9h-5zM780 153h5v21h-5zM819 161h5v18h-5zM1002 209h5v66h-5zM881 231h5v13h-5zM795 249h5v21h-5zM800 270h4v13h-4zM992 292h5v26h-5zM988 292h4v35h-4zM790 292h5v70h-5zM1171 301h4v8h-4zM819 344h5v9h-5zM800 384h4v13h-4zM795 410h5v13h-5zM886 431h5v5h-5zM780 449h5v4h-5zM785 471h5v4h-5z"/>
<path fill="#c03338" d="M1151 79h5v4h-5zM886 109h5v9h-5zM785 135h5v13h-5zM780 174h5v22h-5zM819 179h5v17h-5zM881 244h5v9h-5zM1151 257h5v9h-5zM795 270h5v18h-5zM800 283h4v22h-4zM819 336h5v8h-5zM800 357h4v27h-4zM795 388h5v22h-5zM886 427h5v4h-5zM780 436h5v13h-5zM785 466h5v5h-5z"/>
<path fill="#b31a2c" d="M1151 83h5v9h-5zM886 118h5v9h-5zM785 148h5v18h-5zM780 196h5v18h-5zM819 196h5v26h-5zM1151 253h5v4h-5zM881 253h5v13h-5zM1041 288h4v4h-4zM795 288h5v100h-5zM800 305h4v52h-4zM819 331h5v5h-5zM780 427h5v9h-5zM785 462h5v4h-5z"/>
<path fill="#9b1127" d="M1151 92h5v4h-5zM886 127h5v4h-5zM785 166h5v30h-5zM780 214h5v8h-5zM819 222h5v22h-5zM881 266h5v13h-5zM819 323h5v8h-5zM1041 336h4v4h-4zM780 423h5v4h-5zM886 423h5v4h-5zM785 458h5v4h-5z"/>
<path fill="#810823" d="M1151 96h5v4h-5zM886 131h5v9h-5zM785 196h5v39h-5zM780 222h5v13h-5zM819 244h5v22h-5zM881 279h5v13h-5zM819 314h5v9h-5zM780 418h5v5h-5zM785 449h5v9h-5z"/>
<path fill="#67001f" d="M1151 100h5v153h-5zM886 140h5v283h-5zM780 235h5v183h-5zM785 235h5v214h-5zM819 266h5v48h-5zM1041 292h4v44h-4zM881 292h5v192h-5z"/>
</g>
<rect x="752.0" y="43.7" width="564.0" height="440.0" fill="none" stroke="#000" stroke-width="2.1"/>
<path d="M741.2 45.9H752.0M741.2 133.0H752.0M741.2 220.2H752.0M741.2 307.3H752.0M741.2 394.5H752.0M741.2 481.6H752.0M758.6 483.7V494.4M912.7 483.7V494.4M1067.0 483.7V494.4M1221.2 483.7V494.4" stroke="#000" stroke-width="2.1" fill="none"/>
<text x="732.8" y="526.8" font-size="30.9" font-family="'DejaVu Sans','Liberation Sans',sans-serif">72.0°E</text>
<text x="869.6" y="526.8" font-size="30.9" font-family="'DejaVu Sans','Liberation Sans',sans-serif">72.5°E</text>
<text x="1007.4" y="526.8" font-size="30.9" font-family="'DejaVu Sans','Liberation Sans',sans-serif">73.0°E</text>
<text x="1144.5" y="526.8" font-size="30.9" font-family="'DejaVu Sans','Liberation Sans',sans-serif">73.5°E</text>
<text x="751.8" y="26.0" font-size="34.5" font-family="'Liberation Serif','DejaVu Serif',serif">(B)</text>
<rect x="751.80" y="578.5" width="19.31" height="28.6" fill="#053061"/><rect x="770.61" y="578.5" width="19.31" height="28.6" fill="#0f437b"/><rect x="789.43" y="578.5" width="19.31" height="28.6" fill="#185595"/><rect x="808.24" y="578.5" width="19.31" height="28.6" fill="#2268ad"/><rect x="827.05" y="578.5" width="19.31" height="28.6" fill="#2e77b5"/><rect x="845.87" y="578.5" width="19.31" height="28.6" fill="#3a87bd"/><rect x="864.68" y="578.5" width="19.31" height="28.6" fill="#4896c5"/><rect x="883.49" y="578.5" width="19.31" height="28.6" fill="#64a8ce"/><rect x="902.31" y="578.5" width="19.31" height="28.6" fill="#7fb9d7"/><rect x="921.12" y="578.5" width="19.31" height="28.6" fill="#99c8e0"/><rect x="939.93" y="578.5" width="19.31" height="28.6" fill="#aed3e6"/><rect x="958.75" y="578.5" width="19.31" height="28.6" fill="#c4deec"/><rect x="977.56" y="578.5" width="19.31" height="28.6" fill="#d6e7f1"/><rect x="996.37" y="578.5" width="19.31" height="28.6" fill="#e3eef3"/><rect x="1015.19" y="578.5" width="19.31" height="28.6" fill="#f0f4f6"/><rect x="1034.00" y="578.5" width="19.31" height="28.6" fill="#f8f2ef"/><rect x="1052.81" y="578.5" width="19.31" height="28.6" fill="#fae9de"/><rect x="1071.63" y="578.5" width="19.31" height="28.6" fill="#fcdfce"/><rect x="1090.44" y="578.5" width="19.31" height="28.6" fill="#fbd0b9"/><rect x="1109.25" y="578.5" width="19.31" height="28.6" fill="#f8bda1"/><rect x="1128.07" y="578.5" width="19.31" height="28.6" fill="#f5ab89"/><rect x="1146.88" y="578.5" width="19.31" height="28.6" fill="#ed9475"/><rect x="1165.69" y="578.5" width="19.31" height="28.6" fill="#e27d63"/><rect x="1184.51" y="578.5" width="19.31" height="28.6" fill="#d86551"/><rect x="1203.32" y="578.5" width="19.31" height="28.6" fill="#cc4c44"/><rect x="1222.13" y="578.5" width="19.31" height="28.6" fill="#c03338"/><rect x="1240.95" y="578.5" width="19.31" height="28.6" fill="#b31a2c"/><rect x="1259.76" y="578.5" width="19.31" height="28.6" fill="#9b1127"/><rect x="1278.57" y="578.5" width="19.31" height="28.6" fill="#810823"/><rect x="1297.39" y="578.5" width="19.31" height="28.6" fill="#67001f"/>
<rect x="751.8" y="578.5" width="564.4" height="28.6" fill="none" stroke="#000" stroke-width="2.1"/>
<path d="M752.0 607.1V617.9M892.9 607.1V617.9M1033.9 607.1V617.9M1175.0 607.1V617.9M1315.9 607.1V617.9" stroke="#000" stroke-width="2.1" fill="none"/>
<clipPath id="clipB"><rect x="726.6" y="600" width="200" height="80"/></clipPath><text x="752.0" y="650.8" text-anchor="middle" font-size="30.9" font-family="'DejaVu Sans','Liberation Sans',sans-serif" clip-path="url(#clipB)">−0.4</text>
<text x="892.9" y="650.8" text-anchor="middle" font-size="30.9" font-family="'DejaVu Sans','Liberation Sans',sans-serif">−0.2</text>
<text x="1033.9" y="650.8" text-anchor="middle" font-size="30.9" font-family="'DejaVu Sans','Liberation Sans',sans-serif">0.0</text>
<text x="1175.0" y="650.8" text-anchor="middle" font-size="30.9" font-family="'DejaVu Sans','Liberation Sans',sans-serif">0.2</text>
<text x="1315.9" y="650.8" text-anchor="middle" font-size="30.9" font-family="'DejaVu Sans','Liberation Sans',sans-serif">0.4</text>
<text x="1033.8" y="711.3" text-anchor="middle" font-size="34.0" font-family="'DejaVu Sans','Liberation Sans',sans-serif">mm/s</text>
</g>
<g id="panelC">
<g shape-rendering="crispEdges">
<path fill="#053061" d="M1808 324h5v40h-5zM1681 329h4v117h-4zM1676 333h5v148h-5zM1605 346h9v135h-9zM1671 346h5v135h-5zM1595 350h10v131h-10zM1614 350h5v131h-5zM1590 364h5v117h-5zM1666 368h5v113h-5zM1813 372h5v109h-5zM1586 377h4v104h-4zM1818 377h9v104h-9zM1662 385h4v96h-4zM1827 385h10v96h-10zM1581 390h5v91h-5zM1837 390h5v91h-5zM1657 394h5v87h-5zM1576 398h5v83h-5zM1619 398h5v83h-5zM1652 398h5v83h-5zM1647 403h5v78h-5zM1842 403h4v78h-4zM1624 407h23v74h-23zM1572 411h4v70h-4zM1567 416h5v65h-5zM1851 416h5v65h-5zM1861 420h4v61h-4zM1856 425h5v56h-5zM1562 429h5v52h-5zM1557 433h5v48h-5zM1846 433h5v48h-5zM1429 438h10v43h-10zM1425 442h4v39h-4zM1553 442h4v39h-4zM1870 442h5v39h-5zM1439 451h5v30h-5zM1875 451h5v30h-5zM1865 455h5v26h-5zM1444 459h14v22h-14zM1880 459h9v22h-9zM1889 464h5v17h-5zM1420 468h5v13h-5zM1894 468h9v13h-9zM1903 472h5v9h-5zM1397 477h23v4h-23zM1908 477h9v4h-9z"/>
<path fill="#0f437b" d="M1808 320h5v4h-5zM1681 324h4v5h-4zM1676 329h5v4h-5zM1605 342h9v4h-9zM1671 342h5v4h-5zM1600 342h5v8h-5zM1614 342h5v8h-5zM1595 346h5v4h-5zM1666 350h5v18h-5zM1590 355h5v9h-5zM1619 355h5v43h-5zM1813 364h5v8h-5zM1662 364h4v21h-4zM1586 368h4v9h-4zM1818 368h5v9h-5zM1823 372h4v5h-4zM1827 377h10v8h-10zM1581 381h5v9h-5zM1837 381h5v9h-5zM1576 390h5v8h-5zM1647 398h5v5h-5zM1842 398h4v5h-4zM1624 398h4v9h-4zM1643 398h4v9h-4zM1628 403h15v4h-15zM1572 403h4v8h-4zM1567 411h5v5h-5zM1851 411h5v5h-5zM1562 420h5v9h-5zM1557 429h5v4h-5zM1429 433h5v5h-5zM1553 433h4v9h-4zM1425 438h4v4h-4zM1870 438h5v4h-5zM1439 438h5v13h-5zM1420 442h5v26h-5zM1865 446h5v9h-5zM1444 451h14v8h-14zM1880 451h4v8h-4zM1884 455h5v4h-5zM1458 455h5v26h-5zM1889 459h5v5h-5zM1894 459h5v9h-5zM1899 464h4v4h-4zM1903 468h5v4h-5zM1397 468h9v9h-9zM1908 468h5v9h-5zM1406 472h14v5h-14zM1913 472h4v5h-4zM1917 477h5v4h-5z"/>
<path fill="#185595" d="M1681 320h4v4h-4zM1676 324h5v5h-5zM1609 333h5v9h-5zM1671 333h5v9h-5zM1600 337h9v5h-9zM1614 337h5v5h-5zM1595 342h5v4h-5zM1666 342h5v8h-5zM1590 346h5v9h-5zM1619 346h5v9h-5zM1662 355h4v9h-4zM1813 359h5v5h-5zM1586 359h4v9h-4zM1818 364h5v4h-5zM1823 364h4v8h-4zM1827 368h10v9h-10zM1581 377h5v4h-5zM1576 385h5v5h-5zM1624 385h4v13h-4zM1657 390h5v4h-5zM1647 394h10v4h-10zM1572 394h4v9h-4zM1628 398h15v5h-15zM1567 407h5v4h-5zM1562 416h5v4h-5zM1861 416h4v4h-4zM1557 425h5v4h-5zM1846 425h5v8h-5zM1434 433h10v5h-10zM1865 433h5v13h-5zM1444 438h4v13h-4zM1875 438h5v13h-5zM1448 442h10v9h-10zM1880 446h4v5h-4zM1458 446h5v9h-5zM1884 451h5v4h-5zM1889 451h5v8h-5zM1894 455h5v4h-5zM1463 455h4v26h-4zM1899 459h4v5h-4zM1903 459h5v9h-5zM1397 464h9v4h-9zM1908 464h5v4h-5zM1406 468h4v4h-4zM1415 468h5v4h-5zM1913 468h4v4h-4zM1917 468h5v9h-5zM1922 472h5v9h-5zM1927 477h5v4h-5z"/>
<path fill="#2268ad" d="M1681 316h4v4h-4zM1676 320h5v4h-5zM1609 329h5v4h-5zM1671 329h5v4h-5zM1614 329h5v8h-5zM1600 333h9v4h-9zM1595 337h5v5h-5zM1666 337h5v5h-5zM1619 337h5v9h-5zM1590 342h5v4h-5zM1662 346h4v9h-4zM1823 350h4v14h-4zM1586 355h4v4h-4zM1813 355h5v4h-5zM1827 355h10v13h-10zM1818 359h5v5h-5zM1624 359h4v26h-4zM1581 372h5v5h-5zM1837 372h5v9h-5zM1576 381h5v4h-5zM1657 385h5v5h-5zM1572 390h4v4h-4zM1652 390h5v4h-5zM1628 390h5v8h-5zM1633 394h14v4h-14zM1842 394h4v4h-4zM1567 403h5v4h-5zM1851 407h5v4h-5zM1846 407h5v18h-5zM1562 411h5v5h-5zM1557 420h5v5h-5zM1856 420h5v5h-5zM1865 420h5v13h-5zM1429 429h15v4h-15zM1553 429h4v4h-4zM1444 429h4v9h-4zM1448 429h10v13h-10zM1425 433h4v5h-4zM1870 433h10v5h-10zM1458 433h5v13h-5zM1420 438h5v4h-5zM1880 442h4v4h-4zM1463 442h4v13h-4zM1467 442h5v39h-5zM1884 446h10v5h-10zM1894 451h5v4h-5zM1899 455h9v4h-9zM1397 459h9v5h-9zM1908 459h5v5h-5zM1548 459h5v22h-5zM1406 464h4v4h-4zM1913 464h9v4h-9zM1410 468h5v4h-5zM1922 468h5v4h-5zM1927 468h5v9h-5zM1932 472h4v9h-4zM1936 477h5v4h-5z"/>
<path fill="#2e77b5" d="M1681 311h4v5h-4zM1808 316h5v4h-5zM1609 320h5v9h-5zM1614 324h5v5h-5zM1671 324h5v5h-5zM1605 324h4v9h-4zM1600 329h5v4h-5zM1619 329h5v8h-5zM1595 333h5v4h-5zM1666 333h5v4h-5zM1590 337h5v5h-5zM1662 342h4v4h-4zM1823 346h4v4h-4zM1827 346h10v9h-10zM1624 346h4v13h-4zM1586 350h4v5h-4zM1813 350h5v5h-5zM1818 355h5v4h-5zM1581 364h5v8h-5zM1837 364h5v8h-5zM1576 377h5v4h-5zM1657 377h5v8h-5zM1628 381h5v9h-5zM1572 385h4v5h-4zM1842 385h4v9h-4zM1633 390h19v4h-19zM1567 398h5v5h-5zM1846 398h5v9h-5zM1865 403h5v17h-5zM1562 407h5v4h-5zM1861 411h4v5h-4zM1856 416h5v4h-5zM1434 425h24v4h-24zM1553 425h4v4h-4zM1458 425h5v8h-5zM1870 429h10v4h-10zM1463 429h9v13h-9zM1548 433h5v26h-5zM1884 442h10v4h-10zM1894 446h5v5h-5zM1899 451h9v4h-9zM1397 455h4v4h-4zM1908 455h5v4h-5zM1913 455h4v9h-4zM1917 459h5v5h-5zM1415 464h5v4h-5zM1922 464h10v4h-10zM1932 468h4v4h-4zM1936 468h5v9h-5zM1941 472h5v9h-5zM1946 477h5v4h-5z"/>
<path fill="#3a87bd" d="M1609 316h5v4h-5zM1676 316h5v4h-5zM1605 320h4v4h-4zM1614 320h5v4h-5zM1671 320h5v4h-5zM1600 324h5v5h-5zM1619 324h5v5h-5zM1595 329h5v4h-5zM1666 329h5v4h-5zM1662 337h4v5h-4zM1624 337h4v9h-4zM1827 337h10v9h-10zM1823 342h4v4h-4zM1586 346h4v4h-4zM1813 346h5v4h-5zM1837 355h5v9h-5zM1581 359h5v5h-5zM1628 368h5v13h-5zM1576 372h5v5h-5zM1657 372h5v5h-5zM1842 377h4v8h-4zM1572 381h4v4h-4zM1652 381h5v9h-5zM1633 385h5v5h-5zM1846 385h5v13h-5zM1567 394h5v4h-5zM1865 394h5v9h-5zM1851 403h5v4h-5zM1856 411h5v5h-5zM1557 416h5v4h-5zM1439 420h24v5h-24zM1463 420h9v9h-9zM1429 425h5v4h-5zM1870 425h10v4h-10zM1548 425h5v8h-5zM1425 429h4v4h-4zM1880 438h14v4h-14zM1894 442h5v4h-5zM1899 446h9v5h-9zM1397 451h4v4h-4zM1908 451h9v4h-9zM1472 451h5v30h-5zM1401 455h5v4h-5zM1917 455h5v4h-5zM1406 459h4v5h-4zM1922 459h10v5h-10zM1932 459h4v9h-4zM1410 464h5v4h-5zM1936 464h5v4h-5zM1941 464h5v8h-5zM1946 468h5v9h-5z"/>
<path fill="#4896c5" d="M1605 316h4v4h-4zM1614 316h5v4h-5zM1671 316h5v4h-5zM1600 320h5v4h-5zM1619 320h5v4h-5zM1595 324h5v5h-5zM1666 324h5v5h-5zM1624 329h4v8h-4zM1590 333h5v4h-5zM1662 333h4v4h-4zM1827 333h10v4h-10zM1823 337h4v5h-4zM1586 342h4v4h-4zM1818 350h5v5h-5zM1837 350h5v5h-5zM1581 355h5v4h-5zM1628 359h5v9h-5zM1657 364h5v8h-5zM1842 364h4v13h-4zM1576 368h5v4h-5zM1572 377h4v4h-4zM1652 377h5v4h-5zM1633 377h5v8h-5zM1846 381h5v4h-5zM1647 381h5v9h-5zM1638 385h9v5h-9zM1567 390h5v4h-5zM1865 390h5v4h-5zM1562 403h5v4h-5zM1861 407h4v4h-4zM1463 407h9v13h-9zM1557 411h5v5h-5zM1444 416h19v4h-19zM1434 420h5v5h-5zM1548 420h9v5h-9zM1870 420h5v5h-5zM1420 433h5v5h-5zM1880 433h9v5h-9zM1472 433h5v18h-5zM1894 438h5v4h-5zM1899 442h9v4h-9zM1397 446h4v5h-4zM1908 446h9v5h-9zM1401 451h5v4h-5zM1917 451h5v4h-5zM1922 451h5v8h-5zM1927 455h9v4h-9zM1415 459h5v5h-5zM1936 459h10v5h-10zM1946 464h5v4h-5z"/>
<path fill="#64a8ce" d="M1681 307h4v4h-4zM1605 311h14v5h-14zM1671 311h10v5h-10zM1808 311h5v5h-5zM1600 316h5v4h-5zM1619 316h5v4h-5zM1595 320h5v4h-5zM1666 320h5v4h-5zM1590 329h5v4h-5zM1662 329h4v4h-4zM1827 329h10v4h-10zM1823 333h4v4h-4zM1586 337h4v5h-4zM1813 342h5v4h-5zM1818 346h5v4h-5zM1837 346h5v4h-5zM1628 346h5v13h-5zM1581 350h5v5h-5zM1657 355h5v9h-5zM1842 359h4v5h-4zM1576 359h5v9h-5zM1633 368h5v9h-5zM1572 372h4v5h-4zM1846 372h5v9h-5zM1638 377h5v8h-5zM1643 381h4v4h-4zM1567 385h5v5h-5zM1851 398h5v5h-5zM1463 398h9v9h-9zM1861 403h4v4h-4zM1856 407h5v4h-5zM1444 411h19v5h-19zM1439 416h5v4h-5zM1548 416h5v4h-5zM1472 416h5v17h-5zM1875 420h5v5h-5zM1880 429h9v4h-9zM1889 433h10v5h-10zM1899 438h9v4h-9zM1543 438h5v43h-5zM1397 442h4v4h-4zM1908 442h9v4h-9zM1401 446h5v5h-5zM1917 446h10v5h-10zM1927 451h9v4h-9zM1406 455h4v4h-4zM1936 455h10v4h-10zM1946 459h5v5h-5z"/>
<path fill="#7fb9d7" d="M1609 307h10v4h-10zM1600 311h5v5h-5zM1619 311h5v5h-5zM1595 316h5v4h-5zM1666 316h5v4h-5zM1590 324h5v5h-5zM1624 324h4v5h-4zM1662 324h4v5h-4zM1827 324h10v5h-10zM1628 337h5v9h-5zM1837 337h5v9h-5zM1581 346h5v4h-5zM1657 350h5v5h-5zM1576 355h5v4h-5zM1842 355h4v4h-4zM1633 359h5v9h-5zM1572 368h4v4h-4zM1846 368h5v4h-5zM1652 368h5v9h-5zM1638 372h5v5h-5zM1643 377h9v4h-9zM1567 381h5v4h-5zM1865 385h5v5h-5zM1463 385h9v13h-9zM1562 398h5v5h-5zM1861 398h4v5h-4zM1458 403h5v8h-5zM1472 403h5v13h-5zM1543 403h5v35h-5zM1448 407h10v4h-10zM1557 407h5v4h-5zM1548 411h5v5h-5zM1434 416h5v4h-5zM1553 416h4v4h-4zM1870 416h5v4h-5zM1429 420h5v5h-5zM1425 425h4v4h-4zM1880 425h9v4h-9zM1889 429h10v4h-10zM1899 433h9v5h-9zM1397 438h4v4h-4zM1908 438h9v4h-9zM1401 442h5v4h-5zM1917 442h10v4h-10zM1927 446h9v5h-9zM1936 451h10v4h-10zM1415 455h5v4h-5zM1946 455h5v4h-5zM1410 459h5v5h-5z"/>
<path fill="#99c8e0" d="M1609 303h10v4h-10zM1605 307h4v4h-4zM1619 307h5v4h-5zM1671 307h10v4h-10zM1595 311h5v5h-5zM1666 311h5v5h-5zM1590 320h5v4h-5zM1624 320h4v4h-4zM1662 320h4v4h-4zM1827 320h10v4h-10zM1823 329h4v4h-4zM1628 329h5v8h-5zM1586 333h4v4h-4zM1837 333h5v4h-5zM1581 342h5v4h-5zM1818 342h5v4h-5zM1657 346h5v4h-5zM1576 350h5v5h-5zM1842 350h4v5h-4zM1633 350h5v9h-5zM1572 359h4v9h-4zM1638 359h5v13h-5zM1652 364h5v4h-5zM1846 364h5v4h-5zM1643 368h9v9h-9zM1567 377h5v4h-5zM1463 381h9v4h-9zM1472 385h5v18h-5zM1562 394h5v4h-5zM1851 394h5v4h-5zM1543 394h5v9h-5zM1458 398h5v5h-5zM1548 398h5v13h-5zM1448 403h10v4h-10zM1557 403h5v4h-5zM1856 403h5v4h-5zM1444 407h4v4h-4zM1439 411h5v5h-5zM1870 411h5v5h-5zM1875 416h5v4h-5zM1880 420h9v5h-9zM1889 425h10v4h-10zM1899 429h9v4h-9zM1397 433h4v5h-4zM1908 433h9v5h-9zM1401 433h5v9h-5zM1917 438h10v4h-10zM1927 442h9v4h-9zM1936 446h10v5h-10zM1406 451h4v4h-4zM1415 451h5v4h-5zM1946 451h5v4h-5zM1477 459h4v22h-4z"/>
<path fill="#aed3e6" d="M1605 303h4v4h-4zM1671 303h5v4h-5zM1681 303h4v4h-4zM1600 307h5v4h-5zM1827 311h10v9h-10zM1590 316h5v4h-5zM1624 316h4v4h-4zM1662 316h4v4h-4zM1628 324h5v5h-5zM1823 324h4v5h-4zM1586 329h4v4h-4zM1837 329h5v4h-5zM1581 337h5v5h-5zM1813 337h5v5h-5zM1657 337h5v9h-5zM1633 342h5v8h-5zM1576 346h5v4h-5zM1842 346h4v4h-4zM1572 350h4v9h-4zM1638 350h5v9h-5zM1652 355h5v9h-5zM1643 355h4v13h-4zM1846 359h5v5h-5zM1647 359h5v9h-5zM1567 372h5v5h-5zM1463 372h9v9h-9zM1472 377h5v8h-5zM1543 390h5v4h-5zM1562 390h5v4h-5zM1458 394h5v4h-5zM1548 394h5v4h-5zM1861 394h4v4h-4zM1557 398h5v5h-5zM1444 403h4v4h-4zM1553 411h4v5h-4zM1875 411h5v5h-5zM1880 416h9v4h-9zM1889 420h5v5h-5zM1899 425h9v4h-9zM1397 425h4v8h-4zM1477 425h4v34h-4zM1401 429h5v4h-5zM1420 429h5v4h-5zM1908 429h9v4h-9zM1917 433h10v5h-10zM1927 438h9v4h-9zM1936 442h10v4h-10zM1415 442h5v9h-5zM1406 446h4v5h-4zM1946 446h5v5h-5zM1410 455h5v4h-5z"/>
<path fill="#c4deec" d="M1609 298h10v5h-10zM1600 303h5v4h-5zM1619 303h5v4h-5zM1595 307h5v4h-5zM1666 307h5v4h-5zM1827 307h10v4h-10zM1590 311h5v5h-5zM1624 311h4v5h-4zM1662 311h4v5h-4zM1628 320h5v4h-5zM1823 320h4v4h-4zM1586 324h4v5h-4zM1837 324h5v5h-5zM1581 333h5v4h-5zM1657 333h5v4h-5zM1813 333h5v4h-5zM1633 333h5v9h-5zM1576 342h5v4h-5zM1842 342h4v4h-4zM1572 346h4v4h-4zM1638 346h5v4h-5zM1643 350h4v5h-4zM1652 350h5v5h-5zM1647 350h5v9h-5zM1463 350h9v22h-9zM1472 350h5v27h-5zM1846 355h5v4h-5zM1567 355h5v17h-5zM1477 372h4v53h-4zM1865 381h5v4h-5zM1543 381h5v9h-5zM1562 381h5v9h-5zM1458 381h5v13h-5zM1548 385h5v9h-5zM1851 390h5v4h-5zM1861 390h4v4h-4zM1538 390h5v91h-5zM1444 398h14v5h-14zM1856 398h5v5h-5zM1439 407h5v4h-5zM1870 407h10v4h-10zM1434 411h5v5h-5zM1880 411h9v5h-9zM1429 416h5v4h-5zM1889 416h5v4h-5zM1397 420h4v5h-4zM1425 420h4v5h-4zM1894 420h14v5h-14zM1401 425h5v4h-5zM1908 425h9v4h-9zM1917 429h10v4h-10zM1481 429h5v52h-5zM1927 433h9v5h-9zM1936 433h5v9h-5zM1415 438h5v4h-5zM1941 438h5v4h-5zM1946 438h5v8h-5zM1406 442h4v4h-4zM1410 451h5v4h-5z"/>
<path fill="#d6e7f1" d="M1681 289h4v14h-4zM1609 294h10v4h-10zM1605 298h4v5h-4zM1619 298h5v5h-5zM1671 298h5v5h-5zM1595 303h5v4h-5zM1666 303h5v4h-5zM1676 303h5v4h-5zM1827 303h10v4h-10zM1624 307h4v4h-4zM1628 311h5v9h-5zM1823 316h4v4h-4zM1586 320h4v4h-4zM1837 320h5v4h-5zM1633 324h5v9h-5zM1657 324h5v9h-5zM1581 329h5v4h-5zM1576 337h5v5h-5zM1818 337h5v5h-5zM1842 337h4v5h-4zM1638 337h5v9h-5zM1463 337h14v13h-14zM1572 342h4v4h-4zM1643 346h14v4h-14zM1567 346h5v9h-5zM1477 346h4v26h-4zM1846 350h5v5h-5zM1481 350h5v79h-5zM1562 359h5v22h-5zM1543 368h5v13h-5zM1538 368h5v22h-5zM1458 372h5v9h-5zM1548 377h5v8h-5zM1453 390h5v8h-5zM1557 390h5v8h-5zM1486 390h5v91h-5zM1444 394h9v4h-9zM1856 394h5v4h-5zM1870 398h5v9h-5zM1875 403h5v4h-5zM1553 407h4v4h-4zM1880 407h9v4h-9zM1889 411h5v5h-5zM1397 416h4v4h-4zM1894 416h14v4h-14zM1401 416h5v9h-5zM1908 420h9v5h-9zM1917 425h10v4h-10zM1927 425h5v8h-5zM1932 429h9v4h-9zM1941 429h5v9h-5zM1415 433h5v5h-5zM1946 433h5v5h-5zM1406 438h4v4h-4z"/>
<path fill="#e3eef3" d="M1614 276h5v18h-5zM1681 281h4v8h-4zM1619 281h5v17h-5zM1609 285h5v9h-5zM1605 289h4v9h-4zM1671 289h5v9h-5zM1600 294h5v9h-5zM1666 294h5v9h-5zM1676 298h5v5h-5zM1827 298h10v5h-10zM1624 298h4v9h-4zM1628 303h5v8h-5zM1662 303h4v8h-4zM1590 307h5v4h-5zM1808 307h5v4h-5zM1837 307h5v13h-5zM1823 311h4v5h-4zM1633 311h5v13h-5zM1586 316h4v4h-4zM1657 316h5v8h-5zM1581 324h5v5h-5zM1638 324h5v13h-5zM1813 329h5v4h-5zM1463 329h14v8h-14zM1842 329h4v8h-4zM1477 329h4v17h-4zM1576 333h5v4h-5zM1818 333h5v4h-5zM1572 333h4v9h-4zM1481 333h5v17h-5zM1567 337h5v9h-5zM1643 337h4v9h-4zM1652 337h5v9h-5zM1647 342h5v4h-5zM1562 342h5v17h-5zM1846 346h5v4h-5zM1486 346h5v44h-5zM1458 350h5v22h-5zM1538 355h10v13h-10zM1548 359h5v18h-5zM1557 372h5v18h-5zM1865 377h5v4h-5zM1453 377h5v13h-5zM1491 377h5v104h-5zM1851 381h5v9h-5zM1861 385h4v5h-4zM1444 390h9v4h-9zM1856 390h5v4h-5zM1870 394h5v4h-5zM1875 398h5v5h-5zM1553 398h4v9h-4zM1439 403h5v4h-5zM1880 403h9v4h-9zM1889 403h5v8h-5zM1434 407h5v4h-5zM1397 407h9v9h-9zM1894 407h9v9h-9zM1429 411h5v5h-5zM1903 411h5v5h-5zM1908 411h5v9h-5zM1425 416h4v4h-4zM1913 416h4v4h-4zM1917 416h10v9h-10zM1927 420h5v5h-5zM1932 420h9v9h-9zM1420 425h5v4h-5zM1941 425h5v4h-5zM1415 429h5v4h-5zM1946 429h5v4h-5zM1406 429h4v9h-4zM1410 442h5v9h-5z"/>
<path fill="#f0f4f6" d="M1614 268h5v8h-5zM1619 268h5v13h-5zM1609 272h5v13h-5zM1681 276h4v5h-4zM1624 276h4v22h-4zM1605 281h4v8h-4zM1827 281h10v17h-10zM1671 285h5v4h-5zM1600 285h5v9h-5zM1666 285h5v9h-5zM1628 285h5v18h-5zM1595 289h5v14h-5zM1662 289h4v14h-4zM1837 289h5v18h-5zM1676 294h5v4h-5zM1633 294h5v17h-5zM1823 298h4v13h-4zM1590 303h5v4h-5zM1638 307h5v17h-5zM1586 311h4v5h-4zM1657 311h5v5h-5zM1472 311h9v18h-9zM1467 316h5v13h-5zM1842 316h4v13h-4zM1481 316h5v17h-5zM1818 316h5v17h-5zM1581 320h5v4h-5zM1463 320h4v9h-4zM1813 320h5v9h-5zM1643 320h4v17h-4zM1486 320h5v26h-5zM1576 324h5v9h-5zM1652 324h5v13h-5zM1572 329h4v4h-4zM1567 329h5v8h-5zM1647 329h5v13h-5zM1562 333h5v9h-5zM1458 333h5v17h-5zM1557 337h5v35h-5zM1846 342h5v4h-5zM1538 346h10v9h-10zM1548 346h5v13h-5zM1491 346h5v31h-5zM1553 346h4v52h-4zM1534 346h4v135h-4zM1453 359h5v18h-5zM1851 359h5v22h-5zM1448 372h5v18h-5zM1861 377h4v8h-4zM1856 377h5v13h-5zM1496 377h4v104h-4zM1870 390h5v4h-5zM1875 390h5v8h-5zM1880 394h14v9h-14zM1439 398h5v5h-5zM1397 398h9v9h-9zM1894 398h9v9h-9zM1903 398h5v13h-5zM1908 403h5v8h-5zM1913 403h4v13h-4zM1917 407h10v9h-10zM1927 407h5v13h-5zM1932 411h9v9h-9zM1941 411h5v14h-5zM1406 416h4v13h-4zM1420 420h5v5h-5zM1946 420h5v9h-5zM1415 425h5v4h-5zM1410 429h5v13h-5z"/>
<path fill="#f8f2ef" d="M1619 250h5v18h-5zM1624 250h4v26h-4zM1614 259h5v9h-5zM1628 263h5v22h-5zM1609 268h5v4h-5zM1681 272h4v4h-4zM1827 272h10v9h-10zM1605 276h4v5h-4zM1600 276h5v9h-5zM1633 276h5v18h-5zM1666 281h10v4h-10zM1595 281h5v8h-5zM1662 281h4v8h-4zM1837 281h5v8h-5zM1638 285h5v22h-5zM1676 289h5v5h-5zM1823 289h4v9h-4zM1477 289h4v22h-4zM1481 289h5v27h-5zM1590 294h5v9h-5zM1472 294h5v17h-5zM1657 294h5v17h-5zM1486 294h5v26h-5zM1467 298h5v18h-5zM1842 298h4v18h-4zM1491 298h5v48h-5zM1818 303h5v13h-5zM1643 303h4v17h-4zM1586 307h4v4h-4zM1463 307h4v13h-4zM1652 307h5v17h-5zM1581 311h5v9h-5zM1813 311h5v9h-5zM1647 311h5v18h-5zM1496 311h4v66h-4zM1576 316h5v8h-5zM1567 320h9v9h-9zM1458 320h5v13h-5zM1562 320h5v13h-5zM1557 320h5v17h-5zM1553 324h4v22h-4zM1548 329h5v17h-5zM1846 333h5v9h-5zM1534 333h14v13h-14zM1453 342h5v17h-5zM1851 350h5v9h-5zM1448 359h5v13h-5zM1500 364h5v117h-5zM1856 368h5v9h-5zM1865 368h5v9h-5zM1861 372h4v5h-4zM1444 372h4v18h-4zM1870 377h5v13h-5zM1875 381h5v9h-5zM1880 385h14v9h-14zM1397 385h4v13h-4zM1894 385h5v13h-5zM1401 390h5v8h-5zM1899 390h9v8h-9zM1439 394h5v4h-5zM1908 394h9v9h-9zM1406 394h4v22h-4zM1917 398h15v9h-15zM1932 398h4v13h-4zM1434 403h5v4h-5zM1936 403h10v8h-10zM1429 407h5v4h-5zM1946 407h5v13h-5zM1410 407h5v22h-5zM1425 411h4v5h-4zM1415 416h5v9h-5z"/>
<path fill="#fae9de" d="M1619 242h9v8h-9zM1614 246h5v13h-5zM1628 246h5v17h-5zM1609 259h5v9h-5zM1827 263h10v9h-10zM1633 263h5v13h-5zM1681 268h4v4h-4zM1638 268h5v17h-5zM1486 268h5v26h-5zM1600 272h9v4h-9zM1662 272h14v9h-14zM1481 272h5v17h-5zM1491 272h5v26h-5zM1496 272h4v39h-4zM1595 276h5v5h-5zM1837 276h5v5h-5zM1477 276h4v13h-4zM1676 276h5v13h-5zM1823 276h4v13h-4zM1472 276h5v18h-5zM1500 276h5v88h-5zM1657 281h5v13h-5zM1590 289h5v5h-5zM1467 289h5v9h-5zM1842 289h4v9h-4zM1643 289h4v14h-4zM1652 289h5v18h-5zM1463 294h4v13h-4zM1818 298h5v5h-5zM1647 298h5v13h-5zM1586 303h4v4h-4zM1581 307h5v4h-5zM1557 307h5v13h-5zM1576 311h5v5h-5zM1458 311h5v9h-5zM1562 311h14v9h-14zM1553 316h4v8h-4zM1529 316h5v43h-5zM1548 320h5v9h-5zM1534 320h14v13h-14zM1846 324h5v9h-5zM1453 329h5v13h-5zM1851 342h5v8h-5zM1448 342h5v17h-5zM1856 355h5v13h-5zM1444 355h4v17h-4zM1865 364h5v4h-5zM1861 364h4v8h-4zM1870 368h5v9h-5zM1875 368h5v13h-5zM1397 377h4v8h-4zM1880 377h19v8h-19zM1401 377h5v13h-5zM1899 381h9v9h-9zM1406 381h4v13h-4zM1908 385h9v9h-9zM1439 390h5v4h-5zM1917 390h15v8h-15zM1932 394h4v4h-4zM1936 394h10v9h-10zM1410 394h5v13h-5zM1946 398h5v9h-5zM1505 398h5v83h-5zM1415 407h5v9h-5zM1420 416h5v4h-5z"/>
<path fill="#fcdfce" d="M1624 233h4v9h-4zM1619 237h5v5h-5zM1628 237h5v9h-5zM1614 242h5v4h-5zM1609 250h5v9h-5zM1486 250h5v18h-5zM1491 250h9v22h-9zM1633 255h5v8h-5zM1827 255h10v8h-10zM1638 259h5v9h-5zM1681 263h4v5h-4zM1481 263h5v9h-5zM1605 263h4v9h-4zM1662 263h4v9h-4zM1500 263h5v13h-5zM1600 268h5v4h-5zM1666 268h10v4h-10zM1472 268h9v8h-9zM1823 268h4v8h-4zM1837 268h5v8h-5zM1595 272h5v4h-5zM1676 272h5v4h-5zM1657 272h5v9h-5zM1643 276h4v13h-4zM1842 276h4v13h-4zM1590 281h5v8h-5zM1652 281h5v8h-5zM1467 285h5v4h-5zM1647 285h5v13h-5zM1463 289h4v5h-4zM1818 289h5v9h-5zM1586 298h4v5h-4zM1557 298h5v9h-5zM1529 298h5v18h-5zM1581 303h5v4h-5zM1458 303h5v8h-5zM1562 303h5v8h-5zM1553 303h4v13h-4zM1567 307h14v4h-14zM1813 307h5v4h-5zM1534 316h19v4h-19zM1846 316h5v8h-5zM1453 316h5v13h-5zM1851 329h5v13h-5zM1448 333h5v9h-5zM1444 346h4v9h-4zM1856 346h5v9h-5zM1865 350h5v14h-5zM1861 355h4v9h-4zM1870 359h10v9h-10zM1880 359h4v18h-4zM1529 359h5v26h-5zM1397 364h9v13h-9zM1439 364h5v26h-5zM1884 368h10v9h-10zM1406 368h4v13h-4zM1894 372h5v5h-5zM1899 372h4v9h-4zM1903 377h5v4h-5zM1908 377h5v8h-5zM1913 381h4v4h-4zM1917 381h5v9h-5zM1505 381h5v17h-5zM1922 385h10v5h-10zM1410 385h5v9h-5zM1932 385h4v9h-4zM1936 390h10v4h-10zM1946 394h5v4h-5zM1434 394h5v9h-5zM1415 403h5v4h-5zM1429 403h5v4h-5zM1425 407h4v4h-4zM1420 411h5v5h-5z"/>
<path fill="#fbd0b9" d="M1624 228h4v5h-4zM1619 233h5v4h-5zM1628 233h5v4h-5zM1614 237h5v5h-5zM1486 237h14v13h-14zM1481 242h5v21h-5zM1500 242h5v21h-5zM1609 246h5v4h-5zM1633 246h5v9h-5zM1827 246h5v9h-5zM1638 246h5v13h-5zM1832 250h5v5h-5zM1662 250h4v13h-4zM1823 250h4v18h-4zM1605 255h4v8h-4zM1666 255h5v13h-5zM1681 259h4v4h-4zM1477 259h4v9h-4zM1600 259h5v9h-5zM1671 259h5v9h-5zM1837 259h5v9h-5zM1657 259h5v13h-5zM1643 259h4v17h-4zM1472 263h5v5h-5zM1676 263h5v9h-5zM1647 263h5v22h-5zM1595 268h5v4h-5zM1842 272h4v4h-4zM1652 272h5v9h-5zM1590 276h5v5h-5zM1467 276h5v9h-5zM1818 281h5v8h-5zM1463 285h4v4h-4zM1529 285h5v13h-5zM1586 289h4v9h-4zM1557 294h5v4h-5zM1553 294h4v9h-4zM1562 294h5v9h-5zM1458 298h5v5h-5zM1567 298h5v9h-5zM1846 298h5v18h-5zM1572 303h9v4h-9zM1808 303h5v4h-5zM1548 303h5v13h-5zM1453 307h5v9h-5zM1538 307h10v9h-10zM1534 311h4v5h-4zM1851 311h5v18h-5zM1448 324h5v9h-5zM1856 333h5v13h-5zM1444 337h4v9h-4zM1865 346h5v4h-5zM1861 346h4v9h-4zM1439 346h5v18h-5zM1870 350h10v9h-10zM1397 355h9v9h-9zM1505 355h5v26h-5zM1884 359h10v9h-10zM1406 364h4v4h-4zM1894 368h9v4h-9zM1903 368h10v9h-10zM1410 368h5v17h-5zM1913 372h4v9h-4zM1917 377h5v4h-5zM1922 377h10v8h-10zM1932 381h4v4h-4zM1936 381h10v9h-10zM1946 385h5v9h-5zM1529 385h5v96h-5zM1434 390h5v4h-5zM1415 394h5v9h-5zM1510 394h5v87h-5zM1420 407h5v4h-5z"/>
<path fill="#f8bda1" d="M1486 202h5v35h-5zM1491 207h5v30h-5zM1481 207h5v35h-5zM1477 211h4v48h-4zM1624 224h4v4h-4zM1628 224h5v9h-5zM1496 224h4v13h-4zM1619 228h5v5h-5zM1614 233h5v4h-5zM1500 233h5v9h-5zM1633 233h10v13h-10zM1662 237h4v13h-4zM1472 237h5v26h-5zM1609 242h5v4h-5zM1827 242h5v4h-5zM1832 242h5v8h-5zM1823 246h4v4h-4zM1666 246h5v9h-5zM1605 250h4v5h-4zM1600 250h5v9h-5zM1643 250h4v9h-4zM1657 250h5v9h-5zM1671 250h5v9h-5zM1837 250h5v9h-5zM1647 250h5v13h-5zM1505 250h5v105h-5zM1681 255h4v4h-4zM1652 255h5v17h-5zM1676 259h5v4h-5zM1595 259h5v9h-5zM1467 263h5v13h-5zM1842 268h4v4h-4zM1590 272h5v4h-5zM1818 276h5v5h-5zM1529 276h5v9h-5zM1562 276h5v18h-5zM1557 281h5v13h-5zM1586 285h4v4h-4zM1553 289h4v5h-4zM1846 289h5v9h-5zM1458 294h5v4h-5zM1567 294h5v4h-5zM1548 294h5v9h-5zM1572 298h4v5h-4zM1581 298h5v5h-5zM1808 298h5v5h-5zM1453 298h5v9h-5zM1543 298h5v9h-5zM1851 298h5v13h-5zM1538 303h5v4h-5zM1534 303h4v8h-4zM1448 320h5v4h-5zM1856 324h5v9h-5zM1444 329h4v8h-4zM1861 333h4v13h-4zM1865 337h5v9h-5zM1439 342h5v4h-5zM1870 342h5v8h-5zM1875 346h5v4h-5zM1397 350h9v5h-9zM1880 350h14v9h-14zM1406 355h4v9h-4zM1894 355h14v13h-14zM1510 359h5v35h-5zM1410 364h5v4h-5zM1908 364h5v4h-5zM1913 364h4v8h-4zM1917 364h10v13h-10zM1434 364h5v26h-5zM1927 372h5v5h-5zM1932 372h4v9h-4zM1936 377h10v4h-10zM1946 377h5v8h-5zM1415 385h5v9h-5zM1429 398h5v5h-5zM1420 403h9v4h-9zM1515 459h4v22h-4z"/>
<path fill="#f5ab89" d="M1486 163h5v39h-5zM1481 163h5v44h-5zM1477 172h4v39h-4zM1491 185h5v22h-5zM1496 207h4v17h-4zM1472 211h5v26h-5zM1500 215h5v18h-5zM1628 220h5v4h-5zM1619 224h5v4h-5zM1662 224h4v13h-4zM1614 228h5v5h-5zM1633 228h10v5h-10zM1827 233h10v9h-10zM1609 237h5v5h-5zM1666 237h5v9h-5zM1657 237h5v13h-5zM1823 242h4v4h-4zM1643 242h9v8h-9zM1671 242h5v8h-5zM1837 242h5v8h-5zM1505 246h5v4h-5zM1600 246h9v4h-9zM1681 246h4v9h-4zM1652 250h5v5h-5zM1676 250h5v9h-5zM1467 250h5v13h-5zM1595 255h5v4h-5zM1842 255h4v13h-4zM1590 263h5v9h-5zM1818 263h5v13h-5zM1529 272h5v4h-5zM1562 272h5v4h-5zM1557 272h5v9h-5zM1553 276h4v13h-4zM1463 281h4v4h-4zM1586 281h4v4h-4zM1846 281h5v8h-5zM1458 281h5v13h-5zM1567 285h5v9h-5zM1510 285h5v74h-5zM1548 289h5v5h-5zM1543 289h5v9h-5zM1581 289h5v9h-5zM1453 294h5v4h-5zM1572 294h4v4h-4zM1851 294h5v4h-5zM1538 294h5v9h-5zM1534 298h4v5h-4zM1576 298h5v5h-5zM1813 303h5v4h-5zM1448 311h5v9h-5zM1856 316h5v8h-5zM1444 320h4v9h-4zM1861 324h4v9h-4zM1865 324h5v13h-5zM1870 324h5v18h-5zM1439 333h5v9h-5zM1875 333h5v13h-5zM1880 333h4v17h-4zM1884 337h5v13h-5zM1889 342h5v8h-5zM1894 342h9v13h-9zM1434 342h5v22h-5zM1406 350h4v5h-4zM1903 350h5v5h-5zM1908 350h14v14h-14zM1410 355h5v9h-5zM1922 359h5v5h-5zM1927 359h9v13h-9zM1936 364h10v13h-10zM1415 364h5v21h-5zM1429 368h5v4h-5zM1946 372h5v5h-5zM1429 385h5v13h-5zM1515 390h4v69h-4zM1425 398h4v5h-4zM1519 438h5v43h-5zM1524 459h5v22h-5z"/>
<path fill="#ed9475" d="M1486 41h5v122h-5zM1491 41h5v144h-5zM1496 41h4v166h-4zM1500 41h5v174h-5zM1453 41h5v253h-5zM1448 41h5v270h-5zM1444 41h4v279h-4zM1439 41h5v292h-5zM1434 41h5v301h-5zM1397 41h9v309h-9zM1481 154h5v9h-5zM1477 154h4v18h-4zM1676 154h5v96h-5zM1458 154h5v127h-5zM1415 172h5v109h-5zM1505 176h5v70h-5zM1472 189h5v22h-5zM1420 189h5v70h-5zM1628 215h5v5h-5zM1662 215h4v9h-4zM1666 215h5v22h-5zM1619 220h9v4h-9zM1827 220h5v13h-5zM1614 224h5v4h-5zM1633 224h10v4h-10zM1832 224h5v9h-5zM1657 224h5v13h-5zM1463 224h4v57h-4zM1406 224h4v126h-4zM1643 228h9v14h-9zM1671 228h5v14h-5zM1609 233h5v4h-5zM1823 233h4v9h-4zM1837 237h5v5h-5zM1681 242h4v4h-4zM1467 242h5v8h-5zM1652 242h5v8h-5zM1595 246h5v9h-5zM1842 246h4v9h-4zM1410 246h5v109h-5zM1790 250h4v9h-4zM1510 250h5v35h-5zM1818 255h5v8h-5zM1590 259h5v4h-5zM1529 259h5v13h-5zM1557 263h5v9h-5zM1553 268h4v8h-4zM1586 268h4v13h-4zM1567 272h5v13h-5zM1846 276h5v5h-5zM1548 281h5v8h-5zM1581 281h5v8h-5zM1543 285h5v4h-5zM1538 285h5v9h-5zM1572 285h4v9h-4zM1851 289h5v5h-5zM1534 289h4v9h-4zM1576 289h5v9h-5zM1429 289h5v79h-5zM1808 294h5v4h-5zM1856 294h5v22h-5zM1813 298h5v5h-5zM1861 316h14v8h-14zM1875 320h9v13h-9zM1884 320h5v17h-5zM1889 329h14v13h-14zM1903 333h14v17h-14zM1917 342h5v8h-5zM1922 342h14v17h-14zM1415 346h5v18h-5zM1936 350h10v14h-10zM1946 350h5v22h-5zM1515 359h4v31h-4zM1420 364h5v39h-5zM1429 372h5v13h-5zM1425 377h4v21h-4zM1519 390h5v48h-5zM1524 429h5v30h-5z"/>
<path fill="#e27d63" d="M1524 41h5v105h-5zM1619 41h5v105h-5zM1681 41h4v105h-4zM1458 41h5v113h-5zM1477 41h9v113h-9zM1676 41h5v113h-5zM1415 41h5v131h-5zM1505 41h5v135h-5zM1420 41h5v148h-5zM1472 41h5v148h-5zM1628 41h5v174h-5zM1662 41h9v174h-9zM1624 41h4v179h-4zM1406 41h4v183h-4zM1463 41h4v183h-4zM1633 41h10v183h-10zM1657 41h5v183h-5zM1643 41h9v187h-9zM1671 41h5v187h-5zM1467 41h5v201h-5zM1652 41h5v201h-5zM1410 41h5v205h-5zM1510 41h5v209h-5zM1429 41h5v248h-5zM1515 41h4v318h-4zM1425 41h4v336h-4zM1519 41h5v349h-5zM1619 189h5v31h-5zM1794 189h5v44h-5zM1827 207h5v13h-5zM1614 211h5v13h-5zM1832 211h5v13h-5zM1785 211h9v39h-9zM1823 220h4v13h-4zM1837 224h5v13h-5zM1609 228h5v5h-5zM1681 233h4v9h-4zM1600 233h9v13h-9zM1842 237h4v9h-4zM1595 242h5v4h-5zM1529 242h5v17h-5zM1818 246h5v9h-5zM1590 255h5v4h-5zM1553 255h4v13h-4zM1557 259h5v4h-5zM1586 259h4v9h-4zM1562 259h5v13h-5zM1581 259h5v22h-5zM1790 259h4v26h-4zM1420 259h5v105h-5zM1567 263h5v9h-5zM1846 263h5v13h-5zM1572 263h4v22h-4zM1524 268h5v161h-5zM1548 272h5v9h-5zM1543 276h5v9h-5zM1538 281h5v4h-5zM1576 281h5v8h-5zM1415 281h5v65h-5zM1534 285h4v4h-4zM1856 289h5v5h-5zM1813 294h5v4h-5zM1861 294h4v22h-4zM1865 298h10v18h-10zM1875 303h14v17h-14zM1889 307h10v22h-10zM1899 311h4v18h-4zM1903 316h14v17h-14zM1917 324h19v18h-19zM1936 333h15v17h-15z"/>
<path fill="#d86551" d="M1595 41h5v57h-5zM1614 41h5v170h-5zM1609 41h5v187h-5zM1600 41h9v192h-9zM1619 146h5v43h-5zM1681 146h4v69h-4zM1524 146h5v122h-5zM1794 154h5v35h-5zM1780 181h5v17h-5zM1785 181h9v30h-9zM1827 194h5v13h-5zM1832 198h5v13h-5zM1823 207h4v13h-4zM1837 211h5v13h-5zM1681 224h4v9h-4zM1842 224h4v13h-4zM1529 224h5v18h-5zM1818 233h5v13h-5zM1590 246h5v9h-5zM1557 246h5v13h-5zM1553 250h4v5h-4zM1562 250h5v9h-5zM1581 250h9v9h-9zM1846 250h5v13h-5zM1813 255h5v39h-5zM1567 259h9v4h-9zM1576 259h5v22h-5zM1548 263h5v9h-5zM1543 268h5v8h-5zM1538 272h5v9h-5zM1856 276h5v13h-5zM1861 276h4v18h-4zM1865 276h10v22h-10zM1534 281h4v4h-4zM1851 281h5v8h-5zM1875 281h9v22h-9zM1884 285h5v18h-5zM1808 289h5v5h-5zM1889 289h10v18h-10zM1899 289h4v22h-4zM1903 298h14v18h-14zM1917 307h19v17h-19zM1936 311h10v22h-10zM1946 316h5v17h-5z"/>
<path fill="#cc4c44" d="M1695 41h4v9h-4zM1704 41h67v87h-67zM1699 41h5v92h-5zM1771 41h4v96h-4zM1794 41h5v113h-5zM1775 41h5v118h-5zM1780 41h14v140h-14zM1529 41h5v183h-5zM1557 41h5v205h-5zM1590 41h5v205h-5zM1553 41h4v209h-4zM1562 41h5v209h-5zM1581 41h9v209h-9zM1567 41h14v218h-14zM1548 41h5v222h-5zM1543 41h5v227h-5zM1538 41h5v231h-5zM1534 41h4v240h-4zM1595 98h5v144h-5zM1827 185h5v9h-5zM1832 189h5v9h-5zM1823 198h4v9h-4zM1837 202h5v9h-5zM1681 215h4v5h-4zM1842 215h4v9h-4zM1818 228h5v5h-5zM1846 246h5v4h-5zM1813 246h5v9h-5zM1851 250h5v31h-5zM1856 255h19v21h-19zM1875 255h9v26h-9zM1889 263h5v26h-5zM1808 268h5v4h-5zM1884 268h5v17h-5zM1894 268h9v21h-9zM1903 276h14v22h-14zM1808 281h5v8h-5zM1917 281h15v26h-15zM1932 285h4v22h-4zM1936 289h10v22h-10zM1946 289h5v27h-5z"/>
<path fill="#c03338" d="M1827 41h5v144h-5zM1832 41h5v148h-5zM1823 41h4v157h-4zM1837 41h5v161h-5zM1842 41h4v174h-4zM1818 41h5v187h-5zM1813 41h5v205h-5zM1846 41h5v205h-5zM1851 41h5v209h-5zM1856 41h28v214h-28zM1889 41h5v222h-5zM1808 41h5v227h-5zM1884 41h5v227h-5zM1894 41h9v227h-9zM1903 41h14v235h-14zM1917 41h15v240h-15zM1932 41h4v244h-4zM1936 41h15v248h-15zM1695 50h4v91h-4zM1681 220h4v4h-4z"/>
<path fill="#b31a2c" d="M1808 272h5v9h-5z"/>
</g>
<rect x="1396.8" y="41.3" width="554.2" height="440.2" fill="none" stroke="#000" stroke-width="2.1"/>
<path d="M1386.0 43.3H1396.8M1386.0 130.4H1396.8M1386.0 217.6H1396.8M1386.0 304.7H1396.8M1386.0 391.9H1396.8M1386.0 479.0H1396.8M1403.3 481.5V492.2M1554.9 481.5V492.2M1706.5 481.5V492.2M1858.2 481.5V492.2" stroke="#000" stroke-width="2.1" fill="none"/>
<text x="1377.9" y="525.1" font-size="30.9" font-family="'DejaVu Sans','Liberation Sans',sans-serif">72.0°E</text>
<text x="1514.6" y="525.1" font-size="30.9" font-family="'DejaVu Sans','Liberation Sans',sans-serif">72.5°E</text>
<text x="1652.4" y="525.1" font-size="30.9" font-family="'DejaVu Sans','Liberation Sans',sans-serif">73.0°E</text>
<text x="1789.9" y="525.1" font-size="30.9" font-family="'DejaVu Sans','Liberation Sans',sans-serif">73.5°E</text>
<text x="1378.3" y="26.0" font-size="34.5" font-family="'Liberation Serif','DejaVu Serif',serif">(C)</text>
<rect x="1396.50" y="576.1" width="18.98" height="26.5" fill="#053061"/><rect x="1414.98" y="576.1" width="18.98" height="26.5" fill="#0f437b"/><rect x="1433.47" y="576.1" width="18.98" height="26.5" fill="#185595"/><rect x="1451.95" y="576.1" width="18.98" height="26.5" fill="#2268ad"/><rect x="1470.43" y="576.1" width="18.98" height="26.5" fill="#2e77b5"/><rect x="1488.92" y="576.1" width="18.98" height="26.5" fill="#3a87bd"/><rect x="1507.40" y="576.1" width="18.98" height="26.5" fill="#4896c5"/><rect x="1525.88" y="576.1" width="18.98" height="26.5" fill="#64a8ce"/><rect x="1544.37" y="576.1" width="18.98" height="26.5" fill="#7fb9d7"/><rect x="1562.85" y="576.1" width="18.98" height="26.5" fill="#99c8e0"/><rect x="1581.33" y="576.1" width="18.98" height="26.5" fill="#aed3e6"/><rect x="1599.82" y="576.1" width="18.98" height="26.5" fill="#c4deec"/><rect x="1618.30" y="576.1" width="18.98" height="26.5" fill="#d6e7f1"/><rect x="1636.78" y="576.1" width="18.98" height="26.5" fill="#e3eef3"/><rect x="1655.27" y="576.1" width="18.98" height="26.5" fill="#f0f4f6"/><rect x="1673.75" y="576.1" width="18.98" height="26.5" fill="#f8f2ef"/><rect x="1692.23" y="576.1" width="18.98" height="26.5" fill="#fae9de"/><rect x="1710.72" y="576.1" width="18.98" height="26.5" fill="#fcdfce"/><rect x="1729.20" y="576.1" width="18.98" height="26.5" fill="#fbd0b9"/><rect x="1747.68" y="576.1" width="18.98" height="26.5" fill="#f8bda1"/><rect x="1766.17" y="576.1" width="18.98" height="26.5" fill="#f5ab89"/><rect x="1784.65" y="576.1" width="18.98" height="26.5" fill="#ed9475"/><rect x="1803.13" y="576.1" width="18.98" height="26.5" fill="#e27d63"/><rect x="1821.62" y="576.1" width="18.98" height="26.5" fill="#d86551"/><rect x="1840.10" y="576.1" width="18.98" height="26.5" fill="#cc4c44"/><rect x="1858.58" y="576.1" width="18.98" height="26.5" fill="#c03338"/><rect x="1877.07" y="576.1" width="18.98" height="26.5" fill="#b31a2c"/><rect x="1895.55" y="576.1" width="18.98" height="26.5" fill="#9b1127"/><rect x="1914.03" y="576.1" width="18.98" height="26.5" fill="#810823"/><rect x="1932.52" y="576.1" width="18.98" height="26.5" fill="#67001f"/>
<rect x="1396.5" y="576.1" width="554.5" height="26.5" fill="none" stroke="#000" stroke-width="2.1"/>
<path d="M1396.7 602.6V613.4M1507.6 602.6V613.4M1618.5 602.6V613.4M1729.2 602.6V613.4M1840.0 602.6V613.4M1951.0 602.6V613.4" stroke="#000" stroke-width="2.1" fill="none"/>
<text x="1396.7" y="647.4" text-anchor="middle" font-size="30.9" font-family="'DejaVu Sans','Liberation Sans',sans-serif">27.0</text>
<text x="1507.6" y="647.4" text-anchor="middle" font-size="30.9" font-family="'DejaVu Sans','Liberation Sans',sans-serif">27.5</text>
<text x="1618.5" y="647.4" text-anchor="middle" font-size="30.9" font-family="'DejaVu Sans','Liberation Sans',sans-serif">28.0</text>
<text x="1729.2" y="647.4" text-anchor="middle" font-size="30.9" font-family="'DejaVu Sans','Liberation Sans',sans-serif">28.5</text>
<text x="1840.0" y="647.4" text-anchor="middle" font-size="30.9" font-family="'DejaVu Sans','Liberation Sans',sans-serif">29.0</text>
<text x="1951.0" y="647.4" text-anchor="middle" font-size="30.9" font-family="'DejaVu Sans','Liberation Sans',sans-serif">29.5</text>
<text x="1681.8" y="705.3" text-anchor="middle" font-size="34.0" font-family="'DejaVu Sans','Liberation Sans',sans-serif">°C</text>
</g>
<rect x="90.8" y="504.8" width="1.2" height="1.6" fill="#333"/><rect x="1371.2" y="503" width="0.9" height="2" fill="#555"/>
</svg>
</body></html>
